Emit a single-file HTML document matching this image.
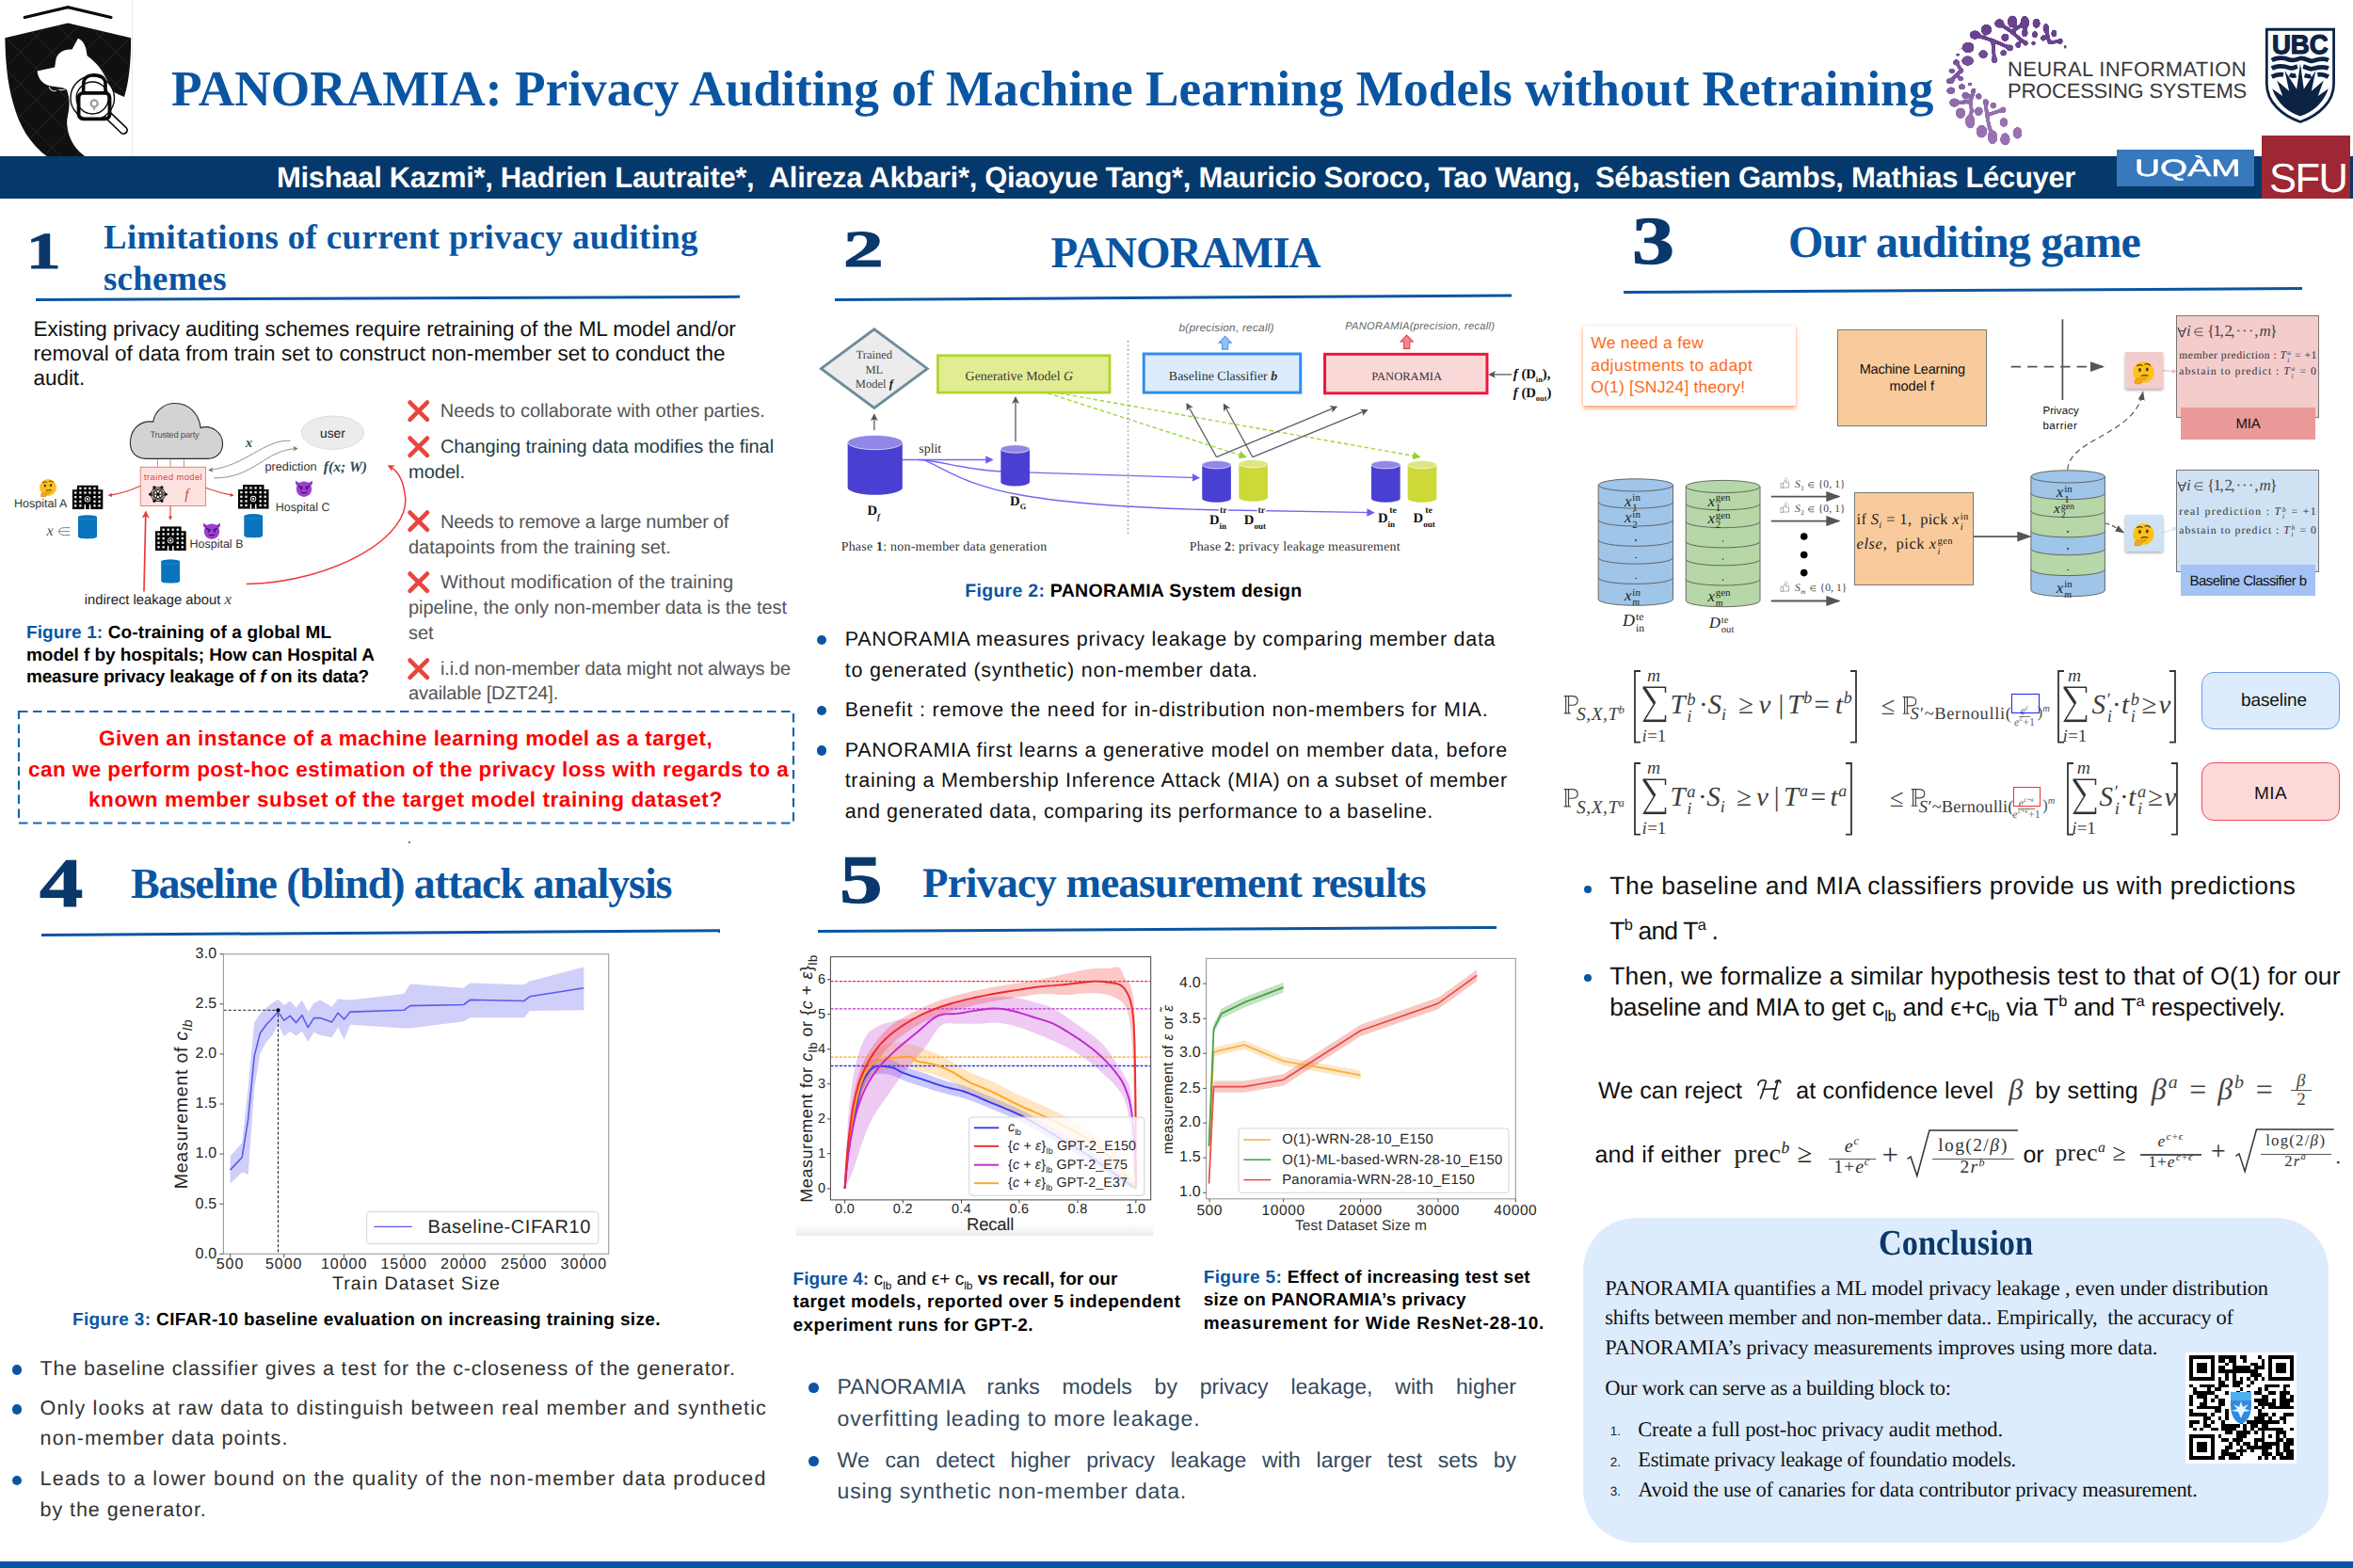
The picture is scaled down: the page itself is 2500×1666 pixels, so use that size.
<!DOCTYPE html>
<html lang="en"><head><meta charset="utf-8"><title>PANORAMIA poster</title>
<style>
html,body{margin:0;padding:0;background:#fff;}
body{width:2500px;height:1666px;position:relative;overflow:hidden;text-rendering:geometricPrecision;font-family:"Liberation Sans",sans-serif;color:#111;}
.a{position:absolute;white-space:nowrap;}
.w{position:absolute;}
.ser{font-family:"Liberation Serif",serif;}
.mono{font-family:"Liberation Mono",monospace;}
.h{font-family:"Liberation Serif",serif;font-weight:bold;color:#0a55a2;}
.num{font-family:"Liberation Serif",serif;font-weight:bold;color:#0a386b;-webkit-text-stroke:1.1px #0a386b;}
.rule{position:absolute;height:3px;background:#0a55a2;transform-origin:0 50%;}
.cap{font-weight:bold;color:#000;}
.cap b{color:#0a55a2;}
.dot{position:absolute;width:11px;height:11px;border-radius:50%;background:#0a55a2;}
svg{position:absolute;overflow:visible;}
sub,sup{font-size:62%;line-height:0;}
.ss{display:inline-block;vertical-align:-0.5em;font-size:64%;line-height:0.98;text-align:left;margin-left:0.04em;}
.ss>*{display:block;}
.m{font-family:'Liberation Serif',serif;}
.m i{padding-right:0.03em;}
.fr{display:inline-block;vertical-align:middle;text-align:center;line-height:1.05;}
.fr>span{display:block;padding:0 2px;}
.fr>span:first-child{border-bottom:1px solid currentColor;}
</style></head>
<body>

<!-- ===== HEADER ===== -->
<div class="w" style="left:140px;top:0;width:1px;height:167px;background:#e6ecef"></div>
<svg width="142" height="167" style="left:0;top:0" viewBox="0 0 1113 1309">
 <defs><clipPath id="shc"><rect x="0" y="0" width="1113" height="1306"/></clipPath>
 <pattern id="wm" width="264" height="264" patternUnits="userSpaceOnUse" patternTransform="translate(40,40)"><path d="M0 0L264 264M264 0L0 264" stroke="#55524f" stroke-width="3.5" fill="none"/></pattern></defs>
 <g clip-path="url(#shc)">
 <path d="M205 145L565 60L925 145" fill="none" stroke="#0b0a09" stroke-width="25" stroke-linecap="round" stroke-linejoin="miter"/>
 <path id="shp" d="M42 315L565 192L1090 315C1092 500 1075 680 1035 808C1000 790 960 775 945 760C900 690 860 590 800 530C770 495 740 475 725 462C720 400 700 340 650 320L600 412C540 408 490 430 470 480C460 510 462 540 455 560L310 592C315 640 340 690 400 712C450 725 510 722 555 745C575 800 580 850 575 890C572 950 550 1000 560 1050C565 1110 590 1180 640 1240C670 1275 700 1295 720 1310L400 1310C250 1200 160 1050 110 860C60 690 45 500 42 315Z" fill="#11100f"/>
 <path d="M42 315L565 192L1090 315C1092 500 1075 680 1035 808C1000 790 960 775 945 760C900 690 860 590 800 530C770 495 740 475 725 462C720 400 700 340 650 320L600 412C540 408 490 430 470 480C460 510 462 540 455 560L310 592C315 640 340 690 400 712C450 725 510 722 555 745C575 800 580 850 575 890C572 950 550 1000 560 1050C565 1110 590 1180 640 1240C670 1275 700 1295 720 1310L400 1310C250 1200 160 1050 110 860C60 690 45 500 42 315Z" fill="url(#wm)" opacity="0.8"/>
 <!-- magnifier -->
 <path d="M905 965L1030 1085" stroke="#0b0a09" stroke-width="72" stroke-linecap="round"/>
 <path d="M905 965L1028 1083" stroke="#fff" stroke-width="48" stroke-linecap="round"/>
 <circle cx="770" cy="815" r="158" fill="none" stroke="#0b0a09" stroke-width="60"/>
 <circle cx="770" cy="815" r="158" fill="none" stroke="#fff" stroke-width="38"/>
 <!-- padlock -->
 <path d="M695 775V700C695 650 730 625 785 625C840 625 878 650 878 700V775" fill="none" stroke="#0b0a09" stroke-width="28"/>
 <rect x="655" y="775" width="258" height="215" rx="38" fill="none" stroke="#0b0a09" stroke-width="30"/>
 <circle cx="785" cy="862" r="28" fill="none" stroke="#9a9a9a" stroke-width="17"/>
 <path d="M785 885V915" stroke="#9a9a9a" stroke-width="16"/>
 <path d="M410 722C415 750 440 765 470 755M490 745C500 752 520 750 545 745" fill="none" stroke="#d8d8d8" stroke-width="9"/>
 </g>
</svg>
<div class="a h" id="title" style="left:182px;top:60px;font-size:53.3px;line-height:70px;letter-spacing:0.03px;">PANORAMIA: Privacy Auditing of Machine Learning Models without Retraining</div>
<div class="w" style="left:0;top:166px;width:2500px;height:45px;background:#05386b"></div>
<div class="a" id="authors" style="left:294px;top:166px;height:45px;line-height:45px;font-size:31px;font-weight:bold;color:#fff;letter-spacing:-0.32px;white-space:pre;">Mishaal Kazmi*, Hadrien Lautraite*,  Alireza Akbari*, Qiaoyue Tang*, Mauricio Soroco, Tao Wang,  Sébastien Gambs, Mathias Lécuyer</div>
<svg width="2500" height="220" style="left:0;top:0" viewBox="0 0 2500 220"><defs><filter id="goo" x="2050" y="0" width="170" height="170" filterUnits="userSpaceOnUse"><feGaussianBlur in="SourceGraphic" stdDeviation="1.15" result="b"/><feColorMatrix in="b" mode="matrix" values="1 0 0 0 0  0 1 0 0 0  0 0 1 0 0  0 0 0 9 -3.4"/></filter></defs><g filter="url(#goo)">
<path d="M2124.3 24.9 L2137.6 34.1 L2151.3 23.9" fill="none" stroke="#68428f" stroke-width="3.6" stroke-linecap="round" stroke-linejoin="round"/>
<path d="M2137.6 34.1 L2147.8 42.8 L2152.3 45.8" fill="none" stroke="#68428f" stroke-width="3.6" stroke-linecap="round" stroke-linejoin="round"/>
<path d="M2098.3 37.1 L2117.1 43.0 L2135.5 50.9" fill="none" stroke="#694390" stroke-width="3.6" stroke-linecap="round" stroke-linejoin="round"/>
<path d="M2117.1 43.0 L2119.0 63.7" fill="none" stroke="#6f4994" stroke-width="3.6" stroke-linecap="round" stroke-linejoin="round"/>
<path d="M2173.8 30.0 L2177.3 45.3 L2189.1 43.8" fill="none" stroke="#68428f" stroke-width="3.6" stroke-linecap="round" stroke-linejoin="round"/>
<path d="M2078.4 66.2 L2084.0 74.9 L2072.2 86.1" fill="none" stroke="#7c569d" stroke-width="3.6" stroke-linecap="round" stroke-linejoin="round"/>
<path d="M2076.3 109.1 L2093.7 108.1 L2096.9 96.1" fill="none" stroke="#8d67a8" stroke-width="3.6" stroke-linecap="round" stroke-linejoin="round"/>
<path d="M2093.7 108.1 L2094.7 117.2 L2093.2 129.0" fill="none" stroke="#956fae" stroke-width="3.6" stroke-linecap="round" stroke-linejoin="round"/>
<path d="M2109.8 108.6 L2111.0 122.3 L2128.2 116.7" fill="none" stroke="#946ead" stroke-width="3.6" stroke-linecap="round" stroke-linejoin="round"/>
<path d="M2111.0 122.3 L2113.1 132.6 L2117.1 145.8" fill="none" stroke="#9872b0" stroke-width="3.6" stroke-linecap="round" stroke-linejoin="round"/>
<ellipse cx="2138.1" cy="22.9" rx="5.1" ry="6.3" fill="#68428f"/>
<ellipse cx="2151.3" cy="23.9" rx="4.6" ry="7.1" fill="#68428f"/>
<ellipse cx="2163.6" cy="24.9" rx="4.0" ry="5.1" fill="#68428f"/>
<ellipse cx="2173.8" cy="30.0" rx="3.2" ry="5.1" fill="#68428f"/>
<ellipse cx="2182.4" cy="35.6" rx="2.9" ry="4.0" fill="#68428f"/>
<ellipse cx="2189.1" cy="43.8" rx="2.5" ry="3.2" fill="#694390"/>
<ellipse cx="2194.2" cy="49.9" rx="1.4" ry="2.3" fill="#6d4792"/>
<ellipse cx="2197.8" cy="55.0" rx="1.1" ry="1.4" fill="#704a94"/>
<ellipse cx="2124.3" cy="24.9" rx="5.1" ry="4.6" fill="#68428f"/>
<ellipse cx="2110.5" cy="31.5" rx="5.7" ry="5.7" fill="#68428f"/>
<ellipse cx="2098.3" cy="37.1" rx="5.7" ry="4.6" fill="#68428f"/>
<ellipse cx="2091.1" cy="50.4" rx="6.3" ry="5.7" fill="#6d4792"/>
<ellipse cx="2090.6" cy="64.7" rx="6.3" ry="5.1" fill="#765098"/>
<ellipse cx="2082.4" cy="52.1" rx="1.6" ry="1.1" fill="#6e4893"/>
<ellipse cx="2080.2" cy="58.1" rx="2.5" ry="1.6" fill="#724c96"/>
<ellipse cx="2130.4" cy="39.7" rx="4.0" ry="4.0" fill="#68428f"/>
<ellipse cx="2151.3" cy="35.1" rx="3.2" ry="4.3" fill="#68428f"/>
<ellipse cx="2162.0" cy="36.6" rx="2.9" ry="3.7" fill="#68428f"/>
<ellipse cx="2170.7" cy="40.5" rx="2.5" ry="3.2" fill="#68428f"/>
<ellipse cx="2160.5" cy="45.8" rx="2.3" ry="2.5" fill="#6b4591"/>
<ellipse cx="2152.3" cy="45.8" rx="2.5" ry="2.9" fill="#6b4591"/>
<ellipse cx="2144.2" cy="47.7" rx="2.9" ry="3.2" fill="#6c4691"/>
<ellipse cx="2135.5" cy="50.9" rx="3.4" ry="3.4" fill="#6e4893"/>
<ellipse cx="2128.6" cy="56.3" rx="3.2" ry="3.2" fill="#714b95"/>
<ellipse cx="2107.1" cy="57.6" rx="4.8" ry="4.3" fill="#714b95"/>
<ellipse cx="2119.0" cy="63.7" rx="3.4" ry="3.4" fill="#754f98"/>
<ellipse cx="2078.4" cy="66.2" rx="3.4" ry="2.9" fill="#775199"/>
<ellipse cx="2073.8" cy="75.2" rx="3.4" ry="2.5" fill="#7c569c"/>
<ellipse cx="2084.0" cy="74.9" rx="2.5" ry="2.5" fill="#7c569c"/>
<ellipse cx="2072.2" cy="86.1" rx="4.3" ry="3.2" fill="#825ca1"/>
<ellipse cx="2083.3" cy="83.6" rx="3.2" ry="2.5" fill="#815ba0"/>
<ellipse cx="2092.9" cy="89.5" rx="2.5" ry="2.1" fill="#845ea2"/>
<ellipse cx="2084.5" cy="92.2" rx="3.7" ry="2.9" fill="#8660a3"/>
<ellipse cx="2072.8" cy="96.3" rx="4.6" ry="3.7" fill="#8862a5"/>
<ellipse cx="2096.9" cy="96.1" rx="2.5" ry="2.5" fill="#8862a5"/>
<ellipse cx="2088.4" cy="101.4" rx="4.0" ry="3.4" fill="#8b65a7"/>
<ellipse cx="2102.3" cy="102.4" rx="3.2" ry="3.2" fill="#8c66a7"/>
<ellipse cx="2076.3" cy="109.1" rx="5.1" ry="4.6" fill="#906aaa"/>
<ellipse cx="2109.8" cy="108.6" rx="3.2" ry="3.4" fill="#8f69aa"/>
<ellipse cx="2117.7" cy="112.1" rx="3.2" ry="3.4" fill="#926cab"/>
<ellipse cx="2128.2" cy="116.7" rx="3.2" ry="3.2" fill="#946ead"/>
<ellipse cx="2083.0" cy="120.3" rx="5.1" ry="5.7" fill="#9670af"/>
<ellipse cx="2102.3" cy="118.3" rx="4.3" ry="4.8" fill="#956fae"/>
<ellipse cx="2093.2" cy="129.0" rx="5.1" ry="7.4" fill="#9872b0"/>
<ellipse cx="2128.9" cy="130.0" rx="4.3" ry="4.8" fill="#9872b0"/>
<ellipse cx="2105.4" cy="139.7" rx="5.7" ry="6.9" fill="#9872b0"/>
<ellipse cx="2117.1" cy="145.8" rx="5.1" ry="7.4" fill="#9872b0"/>
<ellipse cx="2130.4" cy="147.9" rx="5.1" ry="6.6" fill="#9872b0"/>
<ellipse cx="2143.5" cy="141.2" rx="4.8" ry="6.3" fill="#9872b0"/>
</g></svg>
<div class="a" style="left:2133px;top:62px;font-size:22px;line-height:24px;color:#38383b;letter-spacing:0.39px;">NEURAL INFORMATION</div>
<div class="a" style="left:2133px;top:85px;font-size:22px;line-height:24px;color:#38383b;letter-spacing:-0.22px;">PROCESSING SYSTEMS</div>
<!-- UBC -->
<svg width="105" height="120" style="left:2395px;top:20px" viewBox="0 0 1372 1568">
 <path d="M174 147H1105V900C1105 1150 900 1340 640 1430C380 1340 174 1150 174 900Z" fill="#fff" stroke="#0c2344" stroke-width="36"/>
 <text x="637" y="482" text-anchor="middle" style="font-family:'Liberation Sans',sans-serif;font-weight:700;font-size:372px" fill="#0c2344" stroke="#0c2344" stroke-width="16" stroke-linejoin="round" textLength="780" lengthAdjust="spacingAndGlyphs">UBC</text>
 <g fill="none" stroke="#0c2344" stroke-width="62">
  <path d="M245 575C300 545 400 530 470 562S580 562 640 548S760 592 800 586S950 530 1030 576"/>
  <path d="M245 688C300 655 400 645 470 675S560 672 600 660"/>
  <path d="M680 660C720 672 770 700 800 696S950 645 1030 688"/>
  <path d="M245 805C300 775 350 765 405 775"/>
  <path d="M495 775C525 795 550 795 580 785"/>
  <path d="M700 785C730 795 760 805 790 795"/>
  <path d="M880 775C930 765 980 775 1030 805"/>
 </g>
 <path d="M250 970L395 1072L315 855L485 1002L425 720L590 978L640 620L690 978L855 720L795 1002L965 855L885 1072L1030 970C960 1180 800 1300 640 1352C480 1300 320 1180 250 970Z" fill="#0c2344"/>
</svg>
<!-- UQAM / SFU -->
<div class="w" style="left:2249px;top:159px;width:146px;height:39px;background:#3878bd"></div>
<div class="a" style="left:2268px;top:166px;width:76px;font-size:25px;line-height:26px;color:#fff;-webkit-text-stroke:0.5px #fff;transform:scaleX(1.5);transform-origin:0 0;">UQÀM</div>
<div class="w" style="left:2403px;top:144px;width:94px;height:67px;background:#9d2733"></div>
<div class="a" style="left:2411px;top:166px;font-size:43.5px;line-height:48px;color:#fff;letter-spacing:-1.6px;">SFU</div>

<!-- ===== SECTION 1 ===== -->
<div class="a num" style="left:28px;top:237px;font-size:55px;line-height:60px;transform:scaleX(1.33);transform-origin:0 0;">1</div>
<div class="a" style="left:110.0px;top:227.6px;font-size:36.8px;line-height:47.8px;color:#0a55a2;font-family:'Liberation Serif',serif;font-weight:bold;letter-spacing:0.39px;">Limitations of current privacy auditing</div>
<div class="a" style="left:110.0px;top:271.8px;font-size:36.8px;line-height:47.8px;color:#0a55a2;font-family:'Liberation Serif',serif;font-weight:bold;letter-spacing:0.30px;">schemes</div>
<div class="rule" style="left:38.0px;top:316.5px;width:748.0px;height:3px;background:#0a55a2;transform:rotate(-0.245deg);"></div>
<div class="a" style="left:35.5px;top:334.5px;font-size:22.5px;line-height:29.2px;color:#111;letter-spacing:-0.06px;">Existing privacy auditing schemes require retraining of the ML model and/or</div>
<div class="a" style="left:35.5px;top:360.8px;font-size:22.5px;line-height:29.2px;color:#111;letter-spacing:0.03px;">removal of data from train set to construct non-member set to conduct the</div>
<div class="a" style="left:35.5px;top:387.4px;font-size:22.5px;line-height:29.2px;color:#111;letter-spacing:-0.05px;">audit.</div>
<svg width="440" height="240" style="left:0;top:420px" viewBox="0 0 2353 1283"><defs><symbol id="bld" viewBox="0 0 176 138"><path d="M28 0H148V26H176V138H0V26H28Z" fill="#050505"/><g fill="#fff"><rect x="40.5" y="12.2" width="12" height="12"/><rect x="67.6" y="12.2" width="12" height="12"/><rect x="94.3" y="12.2" width="12" height="12"/><rect x="121.4" y="12.2" width="12" height="12"/><rect x="13.0" y="37.3" width="12" height="12"/><rect x="40.5" y="37.3" width="12" height="12"/><rect x="67.6" y="37.3" width="12" height="12"/><rect x="94.3" y="37.3" width="12" height="12"/><rect x="121.4" y="37.3" width="12" height="12"/><rect x="148.5" y="37.3" width="12" height="12"/><rect x="13.0" y="62.0" width="12" height="12"/><rect x="40.5" y="62.0" width="12" height="12"/><rect x="121.4" y="62.0" width="12" height="12"/><rect x="148.5" y="62.0" width="12" height="12"/><rect x="13.0" y="87.0" width="12" height="12"/><rect x="40.5" y="87.0" width="12" height="12"/><rect x="121.4" y="87.0" width="12" height="12"/><rect x="148.5" y="87.0" width="12" height="12"/><rect x="13.0" y="111.3" width="12" height="12"/><rect x="40.5" y="111.3" width="12" height="12"/><rect x="121.4" y="111.3" width="12" height="12"/><rect x="148.5" y="111.3" width="12" height="12"/><rect x="69" y="110" width="8" height="28"/><rect x="97" y="110" width="8" height="28"/><circle cx="87" cy="80" r="17"/></g><circle cx="87" cy="80" r="12.5" fill="#050505"/><path d="M87 72L95 80L87 88L79 80Z" fill="#fff"/></symbol><symbol id="cyl" viewBox="0 0 108 136"><path d="M0 14C0 -4 108 -4 108 14V122C108 140 0 140 0 122Z" fill="#0a73bd"/><ellipse cx="54" cy="14" rx="54" ry="13" fill="#0a73bd"/><path d="M1 16C4 30 104 30 107 16" fill="none" stroke="#4aa0dc" stroke-width="2.5"/></symbol><marker id="ar" viewBox="0 0 10 10" refX="8" refY="5" markerWidth="3.8" markerHeight="3.8" orient="auto-start-reverse"><path d="M0 0L10 5L0 10Z" fill="#d9463c"/></marker><marker id="aR" viewBox="0 0 10 10" refX="7" refY="5" markerWidth="5" markerHeight="5" orient="auto-start-reverse"><path d="M0 0L10 5L0 10L3 5Z" fill="#f0373a"/></marker><marker id="ag" viewBox="0 0 10 10" refX="8" refY="5" markerWidth="6" markerHeight="6" orient="auto-start-reverse"><path d="M0 0L10 5L0 10L3 5Z" fill="#777"/></marker></defs><path d="M830 360C770 360 740 320 740 270C740 200 790 140 870 150C880 90 930 45 995 45C1070 45 1130 100 1140 185C1200 165 1265 210 1265 275C1265 325 1230 360 1180 360Z" fill="#d3d3d3" stroke="#2b2b2b" stroke-width="6"/><text x="992" y="243" text-anchor="middle" font-family="Liberation Sans,sans-serif" font-size="51" fill="#555" letter-spacing="-1.5">Trusted party</text><ellipse cx="1890" cy="212" rx="177" ry="95" fill="#ececec" stroke="#c9c9c9" stroke-width="3"/><text x="1890" y="240" text-anchor="middle" font-family="Liberation Sans,sans-serif" font-size="74" fill="#222">user</text><text x="1395" y="292" font-family="Liberation Serif,serif" font-style="italic" font-weight="bold" font-size="80" fill="#2a4a55">x</text><path d="M1650 258C1500 250 1400 400 1188 425" fill="none" stroke="#888" stroke-width="5" marker-end="url(#ag)"/><path d="M1215 470C1450 470 1500 310 1688 302" fill="none" stroke="#888" stroke-width="5" marker-end="url(#ag)"/><text x="1505" y="425" font-family="Liberation Sans,sans-serif" font-size="68" fill="#333">prediction</text><text x="1838" y="432" font-family="Liberation Serif,serif" font-style="italic" font-weight="bold" font-size="84" fill="#2a4a55">f(x; W)</text><path d="M895 362V410M968 362V410M1045 362V410" stroke="#d9534f" stroke-width="4"/><rect x="798" y="408" width="370" height="220" fill="#fde3e0" stroke="#e27b72" stroke-width="5"/><text x="818" y="482" font-family="Liberation Sans,sans-serif" font-size="50" fill="#d9463c" textLength="330">trained model</text><path d="M943 562L920 601M943 562L876 601M943 562L853 562M943 562L876 523M943 562L920 523M920 601L876 601M920 601L853 562M920 601L876 523M920 601L920 523M876 601L853 562M876 601L876 523M876 601L920 523M853 562L876 523M853 562L920 523M876 523L920 523" stroke="#111" stroke-width="5"/><circle cx="943" cy="562" r="8" fill="#111"/><circle cx="920" cy="601" r="8" fill="#111"/><circle cx="876" cy="601" r="8" fill="#111"/><circle cx="853" cy="562" r="8" fill="#111"/><circle cx="876" cy="523" r="8" fill="#111"/><circle cx="920" cy="523" r="8" fill="#111"/><circle cx="898" cy="562" r="10" fill="#111"/><text x="1050" y="590" font-family="Liberation Serif,serif" font-style="italic" font-size="84" fill="#d9463c">f</text><use href="#bld" x="410" y="510" width="176" height="138"/><use href="#bld" x="1352" y="508" width="176" height="138"/><use href="#bld" x="882" y="745" width="176" height="138"/><g font-family="Liberation Sans,sans-serif" font-size="67" fill="#333"><text x="80" y="638">Hospital A</text><text x="1565" y="660">Hospital C</text><text x="1077" y="868">Hospital B</text></g><text x="265" y="795" font-family="Liberation Serif,serif" font-style="italic" font-size="88" fill="#4a5560">x</text><path d="M398 752H365C345 752 335 762 335 773C335 784 345 794 365 794H398M335 773H395" fill="none" stroke="#777" stroke-width="5"/><use href="#cyl" x="443" y="680" width="108" height="136"/><use href="#cyl" x="1386" y="674" width="108" height="136"/><use href="#cyl" x="915" y="932" width="108" height="136"/><g fill="none" stroke="#d9463c" stroke-width="6"><path d="M798 515Q700 560 618 568" marker-end="url(#ar)"/><path d="M1168 525Q1250 555 1325 568" marker-end="url(#ar)"/><path d="M968 628V705" marker-end="url(#ar)"/></g><path d="M818 1115L828 668" fill="none" stroke="#f0373a" stroke-width="9" marker-end="url(#aR)"/><path d="M1400 1072C1900 1060 2350 800 2300 560C2290 480 2255 425 2212 402" fill="none" stroke="#f0373a" stroke-width="8" marker-end="url(#aR)"/><text x="480" y="1185" font-family="Liberation Sans,sans-serif" font-size="79" fill="#222">indirect leakage about <tspan font-family="Liberation Serif,serif" font-style="italic" fill="#2a4a55" font-size="90">x</tspan></text></svg>
<svg width="20" height="20" style="left:40.9px;top:508.2px" viewBox="-10 -10 20 20"><circle r="9" fill="#fcc21b"/><ellipse cx="-3.2" cy="-2" rx="1.2" ry="1.6" fill="#5a3a12"/><ellipse cx="3" cy="-2.4" rx="1.2" ry="1.6" fill="#5a3a12"/><path d="M-5.5 -5.5Q-3.5 -7 -1.2 -5.6M1.2 -6.8Q3.5 -7.6 5.4 -6" stroke="#5a3a12" stroke-width="1" fill="none" stroke-linecap="round"/><path d="M-2 3.2Q1 2 3.6 3" stroke="#5a3a12" stroke-width="1" fill="none" stroke-linecap="round"/><path d="M-7.5 9.5C-8 6 -6 4.5 -3.5 5.5L1.5 4.2C2.6 4 2.8 5.4 1.8 5.8L-1.6 7C-1 8.6 -2 9.8 -4 10Z" fill="#f5a51b" stroke="#d68a10" stroke-width="0.5"/></svg>
<svg width="20" height="20" style="left:312.6px;top:509.1px" viewBox="-10 -10 20 20"><path d="M-8.8 -8.5Q-9.5 -3 -6 -3L-3.5 -6Q-7 -6 -8.8 -8.5ZM8.8 -8.5Q9.5 -3 6 -3L3.5 -6Q7 -6 8.8 -8.5Z" fill="#8a2fb8"/><circle cy="0.8" r="8.2" fill="#9b3fd0"/><path d="M-5.6 -2.6L-1.6 -0.8M5.6 -2.6L1.6 -0.8" stroke="#3a1060" stroke-width="1.2" stroke-linecap="round"/><circle cx="-3.2" cy="0.3" r="1.1" fill="#3a1060"/><circle cx="3.2" cy="0.3" r="1.1" fill="#3a1060"/><path d="M-4.4 3.2Q0 8 4.4 3.2Q0 5 -4.4 3.2Z" fill="#3a1060"/></svg>
<svg width="20" height="20" style="left:214.9px;top:554.0px" viewBox="-10 -10 20 20"><path d="M-8.8 -8.5Q-9.5 -3 -6 -3L-3.5 -6Q-7 -6 -8.8 -8.5ZM8.8 -8.5Q9.5 -3 6 -3L3.5 -6Q7 -6 8.8 -8.5Z" fill="#8a2fb8"/><circle cy="0.8" r="8.2" fill="#9b3fd0"/><path d="M-5.6 -2.6L-1.6 -0.8M5.6 -2.6L1.6 -0.8" stroke="#3a1060" stroke-width="1.2" stroke-linecap="round"/><circle cx="-3.2" cy="0.3" r="1.1" fill="#3a1060"/><circle cx="3.2" cy="0.3" r="1.1" fill="#3a1060"/><path d="M-4.4 3.2Q0 8 4.4 3.2Q0 5 -4.4 3.2Z" fill="#3a1060"/></svg>
<div class="a cap" style="left:28.0px;top:661.3px;font-size:19px;line-height:24.7px;color:#000;font-weight:bold;letter-spacing:0.12px;"><b>Figure 1:</b> Co-training of a global ML</div>
<div class="a" style="left:28.0px;top:685.1px;font-size:19px;line-height:24.7px;color:#000;font-weight:bold;letter-spacing:-0.05px;">model f by hospitals; How can Hospital A</div>
<div class="a" style="left:28.0px;top:708.1px;font-size:19px;line-height:24.7px;color:#000;font-weight:bold;letter-spacing:-0.19px;">measure privacy leakage of <i>f</i> on its data?</div>
<svg width="21.5" height="21.5" style="left:434.2px;top:425.8px" viewBox="-10.75 -10.75 21.5 21.5"><path d="M-9.2 -9.2L9.2 9.2M9.2 -9.2L-9.2 9.2" stroke="#e8453c" stroke-width="4.6" stroke-linecap="round"/></svg>
<div class="a" style="left:467.8px;top:423.7px;font-size:20px;line-height:26.0px;color:#555;letter-spacing:-0.05px;">Needs to collaborate with other parties.</div>
<svg width="21.5" height="21.5" style="left:434.2px;top:463.8px" viewBox="-10.75 -10.75 21.5 21.5"><path d="M-9.2 -9.2L9.2 9.2M9.2 -9.2L-9.2 9.2" stroke="#e8453c" stroke-width="4.6" stroke-linecap="round"/></svg>
<div class="a" style="left:468.0px;top:461.7px;font-size:20px;line-height:26.0px;color:#263c47;letter-spacing:-0.07px;">Changing training data modifies the final</div>
<div class="a" style="left:434.0px;top:488.7px;font-size:20px;line-height:26.0px;color:#263c47;">model.</div>
<svg width="21.5" height="21.5" style="left:434.2px;top:543.2px" viewBox="-10.75 -10.75 21.5 21.5"><path d="M-9.2 -9.2L9.2 9.2M9.2 -9.2L-9.2 9.2" stroke="#e8453c" stroke-width="4.6" stroke-linecap="round"/></svg>
<div class="a" style="left:468.0px;top:541.7px;font-size:20px;line-height:26.0px;color:#555;letter-spacing:-0.26px;">Needs to remove a large number of</div>
<div class="a" style="left:434.0px;top:568.7px;font-size:20px;line-height:26.0px;color:#555;letter-spacing:-0.04px;">datapoints from the training set.</div>
<svg width="21.5" height="21.5" style="left:434.2px;top:608.2px" viewBox="-10.75 -10.75 21.5 21.5"><path d="M-9.2 -9.2L9.2 9.2M9.2 -9.2L-9.2 9.2" stroke="#e8453c" stroke-width="4.6" stroke-linecap="round"/></svg>
<div class="a" style="left:468.0px;top:606.2px;font-size:20px;line-height:26.0px;color:#555;letter-spacing:0.12px;">Without modification of the training</div>
<div class="a" style="left:434.0px;top:632.7px;font-size:20px;line-height:26.0px;color:#555;letter-spacing:-0.06px;">pipeline, the only non-member data is the test</div>
<div class="a" style="left:434.0px;top:659.7px;font-size:20px;line-height:26.0px;color:#555;">set</div>
<svg width="21.5" height="21.5" style="left:434.2px;top:699.8px" viewBox="-10.75 -10.75 21.5 21.5"><path d="M-9.2 -9.2L9.2 9.2M9.2 -9.2L-9.2 9.2" stroke="#e8453c" stroke-width="4.6" stroke-linecap="round"/></svg>
<div class="a" style="left:468.0px;top:697.7px;font-size:20px;line-height:26.0px;color:#555;letter-spacing:-0.12px;">i.i.d non-member data might not always be</div>
<div class="a" style="left:434.0px;top:724.3px;font-size:20px;line-height:26.0px;color:#555;letter-spacing:-0.18px;">available [DZT24].</div>
<svg width="830" height="124" style="left:18px;top:754px" viewBox="0 0 830 124"><rect x="2" y="2" width="823" height="118.5" fill="none" stroke="#1a64b0" stroke-width="2.2" stroke-dasharray="9.5 5.5"/></svg>
<div class="a" style="left:105.0px;top:770.2px;font-size:22.5px;line-height:29.2px;color:#ff0000;font-weight:bold;letter-spacing:0.42px;">Given an instance of a machine learning model as a target,</div>
<div class="a" style="left:30.0px;top:802.9px;font-size:22.5px;line-height:29.2px;color:#ff0000;font-weight:bold;letter-spacing:0.44px;">can we perform post-hoc estimation of the privacy loss with regards to a</div>
<div class="a" style="left:94.0px;top:835.2px;font-size:22.5px;line-height:29.2px;color:#ff0000;font-weight:bold;letter-spacing:0.59px;">known member subset of the target model training dataset?</div>
<div class="w" style="left:434px;top:894px;width:2px;height:2px;background:#444;border-radius:1px"></div>

<!-- ===== SECTION 2 ===== -->
<div class="a num" style="left:896px;top:235px;font-size:55px;line-height:60px;transform:scaleX(1.55);transform-origin:0 0;">2</div>
<div class="a" style="left:1116.6px;top:238.9px;font-size:47px;line-height:61.1px;color:#0a55a2;font-family:'Liberation Serif',serif;font-weight:bold;letter-spacing:-0.90px;">PANORAMIA</div>
<div class="rule" style="left:886.6px;top:317.0px;width:719.4px;height:3px;background:#0a55a2;transform:rotate(-0.358deg);"></div>
<svg width="820" height="270" style="left:850px;top:330px" viewBox="0 0 2353 775"><defs><marker id="g2" viewBox="0 0 10 10" refX="8" refY="5" markerWidth="6" markerHeight="6" orient="auto"><path d="M0 0L10 5L0 10L2.5 5Z" fill="#555"/></marker><marker id="p2" viewBox="0 0 10 10" refX="8" refY="5" markerWidth="6" markerHeight="6" orient="auto"><path d="M0 0L10 5L0 10Z" fill="#6a5cf0"/></marker><marker id="v2" viewBox="0 0 10 10" refX="8" refY="5" markerWidth="6" markerHeight="6" orient="auto"><path d="M0 0L10 5L0 10Z" fill="#8fd42e"/></marker></defs><g fill="none" stroke="#7466f2" stroke-width="4"><path d="M312 455H585" marker-end="url(#p2)"/><path d="M360 455C450 460 500 488 640 492L1215 510" marker-end="url(#p2)"/><path d="M380 457C520 520 560 590 1260 608L1748 616" marker-end="url(#p2)"/></g><g fill="none" stroke="#9bd83f" stroke-width="4" stroke-dasharray="13 8"><path d="M755 252L1358 446" marker-end="url(#v2)"/><path d="M790 252L1888 446" marker-end="url(#v2)"/></g><g fill="none" stroke="#5f5f5f" stroke-width="3.8"><path d="M226 365V318" marker-end="url(#g2)"/><path d="M657 400V266" marker-end="url(#g2)"/><path d="M1270 447L1180 285" marker-end="url(#g2)"/><path d="M1380 447L1293 287" marker-end="url(#g2)"/><path d="M1270 447L1635 294" marker-end="url(#g2)"/><path d="M1380 447L1728 304" marker-end="url(#g2)"/><path d="M2170 195H2103" marker-end="url(#g2)"/></g><path d="M64 177L226 57L388 177L226 297Z" fill="#ececec" stroke="#6d8c9b" stroke-width="8"/><g font-family='Liberation Serif,serif' font-size="36" fill="#444" text-anchor="middle"><text x="226" y="147">Trained</text><text x="226" y="191">ML</text><text x="226" y="235">Model <tspan font-style="italic" font-weight="bold" fill="#111">f</tspan></text></g><rect x="420" y="137" width="524" height="113" fill="#e2ec92" stroke="#b2d430" stroke-width="8"/><text x="668" y="213" font-family='Liberation Serif,serif' font-size="40" fill="#3a3a3a" text-anchor="middle">Generative Model <tspan font-style="italic">G</tspan></text><path d="M1000 92V680" stroke="#888" stroke-width="4" stroke-dasharray="4 9"/><rect x="1048" y="132" width="478" height="118" fill="#dcecfd" stroke="#2f8cf0" stroke-width="8.5"/><text x="1290" y="212" font-family='Liberation Serif,serif' font-size="40" fill="#333" text-anchor="middle">Baseline Classifier <tspan font-style="italic" font-weight="bold">b</tspan></text><rect x="1600" y="133" width="495" height="119" fill="#fbd8d8" stroke="#f0143c" stroke-width="8.5"/><text x="1850" y="212" font-family='Liberation Serif,serif' font-size="36" fill="#333" text-anchor="middle">PANORAMIA</text><text x="1155" y="62" font-family='Liberation Sans,sans-serif' font-style="italic" font-size="34" fill="#666" textLength="290">b(precision, recall)</text><text x="1662" y="57" font-family='Liberation Sans,sans-serif' font-style="italic" font-size="32" fill="#666" textLength="456">PANORAMIA(precision, recall)</text><path d="M1296 78L1315 98H1305V118H1287V98H1277Z" fill="#90c2f6" stroke="#4a98e8" stroke-width="3"/><path d="M1850 75L1869 95H1859V116H1841V95H1831Z" fill="#f6868b" stroke="#ee3b4b" stroke-width="3"/><g font-family='Liberation Serif,serif' font-weight="bold" font-size="42" fill="#111"><text x="2175" y="207"><tspan font-style="italic">f</tspan> (D<tspan font-size="24" dy="12">in</tspan><tspan dy="-12">),</tspan></text><text x="2175" y="263"><tspan font-style="italic">f</tspan> (D<tspan font-size="24" dy="12">out</tspan><tspan dy="-12">)</tspan></text></g><path d="M145 402V540A83.5 22 0 0 0 312 540V402Z" fill="#4a3fd3"/><ellipse cx="228.5" cy="402" rx="83.5" ry="22" fill="#9087e8" stroke="#fff" stroke-opacity="0.75" stroke-width="2.5"/><path d="M612 422V523A44.0 12 0 0 0 700 523V422Z" fill="#4a3fd3"/><ellipse cx="656.0" cy="422" rx="44.0" ry="12" fill="#9087e8" stroke="#fff" stroke-opacity="0.75" stroke-width="2.5"/><path d="M1226 470V573A44.0 12 0 0 0 1314 573V470Z" fill="#4a3fd3"/><ellipse cx="1270.0" cy="470" rx="44.0" ry="12" fill="#9087e8" stroke="#fff" stroke-opacity="0.75" stroke-width="2.5"/><path d="M1338 467V570A44.0 12 0 0 0 1426 570V467Z" fill="#ccd936"/><ellipse cx="1382.0" cy="467" rx="44.0" ry="12" fill="#dde680" stroke="#fff" stroke-opacity="0.75" stroke-width="2.5"/><path d="M1742 470V573A44.0 12 0 0 0 1830 573V470Z" fill="#4a3fd3"/><ellipse cx="1786.0" cy="470" rx="44.0" ry="12" fill="#9087e8" stroke="#fff" stroke-opacity="0.75" stroke-width="2.5"/><path d="M1853 470V573A44.0 12 0 0 0 1941 573V470Z" fill="#ccd936"/><ellipse cx="1897.0" cy="470" rx="44.0" ry="12" fill="#dde680" stroke="#fff" stroke-opacity="0.75" stroke-width="2.5"/><text x="362" y="432" font-family='Liberation Serif,serif' font-size="40" fill="#333">split</text><g font-family='Liberation Serif,serif' font-weight="bold" font-size="42" fill="#111" stroke="#fff" stroke-width="9" paint-order="stroke" stroke-linejoin="round"><text x="205" y="622">D<tspan font-size="26" dy="14" font-style="italic">f</tspan></text><text x="640" y="595">D<tspan font-size="24" dy="12">G</tspan></text><text x="1248" y="652">D<tspan font-size="26" dy="14">in</tspan></text><text x="1280" y="618" font-size="28">tr</text><text x="1354" y="652">D<tspan font-size="26" dy="14">out</tspan></text><text x="1396" y="618" font-size="28">tr</text><text x="1762" y="645">D<tspan font-size="26" dy="14">in</tspan></text><text x="1797" y="618" font-size="28">te</text><text x="1870" y="645">D<tspan font-size="26" dy="14">out</tspan></text><text x="1906" y="618" font-size="28">te</text></g><g font-family='Liberation Serif,serif' font-size="40" fill="#333"><text x="125" y="733" textLength="627">Phase <tspan font-weight="bold">1</tspan>: non-member data generation</text><text x="1187" y="733" textLength="643">Phase <tspan font-weight="bold">2</tspan>: privacy leakage measurement</text></g></svg>
<div class="a cap" style="left:1025.3px;top:615.7px;font-size:19.5px;line-height:25.4px;color:#000;font-weight:bold;letter-spacing:0.28px;"><b>Figure 2:</b> PANORAMIA System design</div>
<div class="dot" style="left:867.5px;top:674.8px;width:10.5px;height:10.5px"></div>
<div class="a" style="left:897.7px;top:666.2px;font-size:21.5px;line-height:27.9px;color:#111;letter-spacing:0.71px;">PANORAMIA measures privacy leakage by comparing member data</div>
<div class="a" style="left:897.7px;top:699.2px;font-size:21.5px;line-height:27.9px;color:#111;letter-spacing:0.77px;">to generated (synthetic) non-member data.</div>
<div class="dot" style="left:867.5px;top:749.8px;width:10.5px;height:10.5px"></div>
<div class="a" style="left:897.7px;top:741.2px;font-size:21.5px;line-height:27.9px;color:#111;letter-spacing:0.80px;">Benefit : remove the need for in-distribution non-members for MIA.</div>
<div class="dot" style="left:867.5px;top:792.3px;width:10.5px;height:10.5px"></div>
<div class="a" style="left:897.7px;top:783.7px;font-size:21.5px;line-height:27.9px;color:#111;letter-spacing:0.76px;">PANORAMIA first learns a generative model on member data, before</div>
<div class="a" style="left:897.7px;top:816.2px;font-size:21.5px;line-height:27.9px;color:#111;letter-spacing:0.71px;">training a Membership Inference Attack (MIA) on a subset of member</div>
<div class="a" style="left:897.7px;top:849.2px;font-size:21.5px;line-height:27.9px;color:#111;letter-spacing:0.64px;">and generated data, comparing its performance to a baseline.</div>

<!-- ===== SECTION 3 ===== -->
<div class="a num" style="left:1734px;top:216px;font-size:72px;line-height:80px;transform:scaleX(1.25);transform-origin:0 0;">3</div>
<div class="a" style="left:1900.0px;top:227.2px;font-size:48px;line-height:62.4px;color:#0a55a2;font-family:'Liberation Serif',serif;font-weight:bold;letter-spacing:-0.85px;">Our auditing game</div>
<div class="rule" style="left:1725.0px;top:308.7px;width:721.0px;height:3px;background:#0a55a2;transform:rotate(-0.318deg);"></div>
<div class="w" style="left:1681.7px;top:346px;width:226px;height:85px;background:#fff;box-shadow:0 2.5px 4px rgba(255,110,40,0.55),0 0 3px rgba(255,110,40,0.25);"></div>
<div class="a" style="left:1690.2px;top:353.1px;font-size:17.5px;line-height:22.8px;color:#ff6a1a;letter-spacing:0.28px;">We need a few</div>
<div class="a" style="left:1690.2px;top:376.7px;font-size:17.5px;line-height:22.8px;color:#ff6a1a;letter-spacing:0.48px;">adjustments to adapt</div>
<div class="a" style="left:1690.2px;top:400.3px;font-size:17.5px;line-height:22.8px;color:#ff6a1a;letter-spacing:0.18px;">O(1) [SNJ24] theory!</div>
<div class="w" style="left:1951.6px;top:349.5px;width:159.5px;height:103.5px;background:#f9cb9c;border:1px solid #777;box-sizing:border-box;"></div>
<div class="a" style="left:1975.7px;top:384.0px;font-size:14.5px;line-height:18.9px;color:#111;letter-spacing:-0.20px;">Machine Learning</div>
<div class="a" style="left:2007.5px;top:402.4px;font-size:14.5px;line-height:18.9px;color:#111;letter-spacing:-0.01px;">model f</div>
<svg width="840" height="370" style="left:1660px;top:320px" viewBox="1660 320 840 370"><defs><marker id="k3" viewBox="0 0 14 10" refX="12" refY="5" markerWidth="16" markerHeight="11" markerUnits="userSpaceOnUse" orient="auto"><path d="M0 0L14 5L0 10Z" fill="#555"/></marker><marker id="k3s" viewBox="0 0 14 10" refX="10" refY="5" markerWidth="10" markerHeight="8" markerUnits="userSpaceOnUse" orient="auto"><path d="M0 0L14 5L0 10Z" fill="#555"/></marker></defs><path d="M1698.2 613.8V636.7A39.6 6.6 0 0 0 1777.5 636.7V613.8Z" fill="#9fc5e8" stroke="#5a5a5a" stroke-width="0.9"/><path d="M1698.2 592.5V613.8A39.6 6.6 0 0 0 1777.5 613.8V592.5Z" fill="#9fc5e8" stroke="#5a5a5a" stroke-width="0.9"/><path d="M1698.2 573.7V592.5A39.6 6.6 0 0 0 1777.5 592.5V573.7Z" fill="#9fc5e8" stroke="#5a5a5a" stroke-width="0.9"/><path d="M1698.2 552.4V573.7A39.6 6.6 0 0 0 1777.5 573.7V552.4Z" fill="#9fc5e8" stroke="#5a5a5a" stroke-width="0.9"/><path d="M1698.2 533.5V552.4A39.6 6.6 0 0 0 1777.5 552.4V533.5Z" fill="#9fc5e8" stroke="#5a5a5a" stroke-width="0.9"/><path d="M1698.2 515.4V533.5A39.6 6.6 0 0 0 1777.5 533.5V515.4Z" fill="#9fc5e8" stroke="#5a5a5a" stroke-width="0.9"/><ellipse cx="1737.9" cy="515.4" rx="39.6" ry="6.6" fill="#9fc5e8" stroke="#5a5a5a" stroke-width="0.9"/><path d="M1791.2 615.4V638.1A39.4 6.6 0 0 0 1870.0 638.1V615.4Z" fill="#b6d7a8" stroke="#5a5a5a" stroke-width="0.9"/><path d="M1791.2 594.2V615.4A39.4 6.6 0 0 0 1870.0 615.4V594.2Z" fill="#b6d7a8" stroke="#5a5a5a" stroke-width="0.9"/><path d="M1791.2 575.3V594.2A39.4 6.6 0 0 0 1870.0 594.2V575.3Z" fill="#b6d7a8" stroke="#5a5a5a" stroke-width="0.9"/><path d="M1791.2 554.1V575.3A39.4 6.6 0 0 0 1870.0 575.3V554.1Z" fill="#b6d7a8" stroke="#5a5a5a" stroke-width="0.9"/><path d="M1791.2 535.2V554.1A39.4 6.6 0 0 0 1870.0 554.1V535.2Z" fill="#b6d7a8" stroke="#5a5a5a" stroke-width="0.9"/><path d="M1791.2 517.0V535.2A39.4 6.6 0 0 0 1870.0 535.2V517.0Z" fill="#b6d7a8" stroke="#5a5a5a" stroke-width="0.9"/><ellipse cx="1830.6" cy="517.0" rx="39.4" ry="6.6" fill="#b6d7a8" stroke="#5a5a5a" stroke-width="0.9"/><path d="M2157.9 605.0V627.2A39.2 6.6 0 0 0 2236.4 627.2V605.0Z" fill="#9fc5e8" stroke="#5a5a5a" stroke-width="0.9"/><path d="M2157.9 583.1V605.0A39.2 6.6 0 0 0 2236.4 605.0V583.1Z" fill="#b6d7a8" stroke="#5a5a5a" stroke-width="0.9"/><path d="M2157.9 564.2V583.1A39.2 6.6 0 0 0 2236.4 583.1V564.2Z" fill="#9fc5e8" stroke="#5a5a5a" stroke-width="0.9"/><path d="M2157.9 543.0V564.2A39.2 6.6 0 0 0 2236.4 564.2V543.0Z" fill="#b6d7a8" stroke="#5a5a5a" stroke-width="0.9"/><path d="M2157.9 524.1V543.0A39.2 6.6 0 0 0 2236.4 543.0V524.1Z" fill="#b6d7a8" stroke="#5a5a5a" stroke-width="0.9"/><path d="M2157.9 506.4V524.1A39.2 6.6 0 0 0 2236.4 524.1V506.4Z" fill="#9fc5e8" stroke="#5a5a5a" stroke-width="0.9"/><ellipse cx="2197.2" cy="506.4" rx="39.2" ry="6.6" fill="#9fc5e8" stroke="#5a5a5a" stroke-width="0.9"/><path d="M1881.8 527.6 H1953.5" stroke="#555" stroke-width="1.8" marker-end="url(#k3)"/><path d="M1881.8 553.6 H1953.5" stroke="#555" stroke-width="1.8" marker-end="url(#k3)"/><path d="M1881.8 638.5 H1953.5" stroke="#555" stroke-width="1.8" marker-end="url(#k3)"/><path d="M2097 570.1H2156.5" stroke="#555" stroke-width="1.8" marker-end="url(#k3)"/><path d="M2136.6 389.6H2234" stroke="#555" stroke-width="1.8" stroke-dasharray="10.5 7" marker-end="url(#k3)"/><path d="M2191.4 339.3V425" stroke="#555" stroke-width="1.8"/><path d="M2196.8 499.3C2198 466 2268 462 2276.5 418" fill="none" stroke="#555" stroke-width="1.2" stroke-dasharray="6 4" marker-end="url(#k3s)"/><path d="M2236.4 556C2244 557 2248 561 2255 565" fill="none" stroke="#555" stroke-width="1.2" stroke-dasharray="5 3" marker-end="url(#k3s)"/><circle cx="1916.7" cy="570" r="3.8" fill="#000"/><circle cx="1916.7" cy="589.5" r="3.8" fill="#000"/><circle cx="1916.7" cy="608.6" r="3.8" fill="#000"/><path d="M2297.6 393.6L2311 394.5" stroke="#f4b8c0" stroke-width="1.2"/><path d="M2313 394.6l-5 -2.5v5z" fill="#f4b8c0"/><path d="M2297.6 566L2311 561.5" stroke="#cfe2f3" stroke-width="1.2"/><path d="M2313.5 560.6l-5.5 -0.6l1.6 4.6z" fill="#cfe2f3"/></svg>
<div class="w" style="left:1969.8px;top:523.4px;width:127.2px;height:99px;background:#f9cb9c;border:1px solid #777;box-sizing:border-box;"></div>
<div class="a m" style="left:1972.6px;top:541.3px;font-size:16.5px;line-height:21.4px;color:#222;font-family:'Liberation Serif',serif;letter-spacing:0.30px;">if <i>S<sub>i</sub></i> = 1,&nbsp; pick <i>x</i><span class="ss"><span>in</span><span><i>i</i></span></span></div>
<div class="a m" style="left:1972.6px;top:567.3px;font-size:16.5px;line-height:21.4px;color:#222;font-family:'Liberation Serif',serif;letter-spacing:0.50px;"><i>else</i>,&nbsp; pick <i>x</i><span class="ss"><span>gen</span><span><i>i</i></span></span></div>
<div class="a m" style="left:1725.9px;top:521.5px;font-size:17px;line-height:22.1px;color:#222;font-family:'Liberation Serif',serif;"><i>x</i><span class="ss"><span>in</span><span>1</span></span></div>
<div class="a m" style="left:1725.9px;top:539.2px;font-size:17px;line-height:22.1px;color:#222;font-family:'Liberation Serif',serif;"><i>x</i><span class="ss"><span>in</span><span>2</span></span></div>
<div class="a m" style="left:1725.9px;top:621.8px;font-size:17px;line-height:22.1px;color:#222;font-family:'Liberation Serif',serif;"><i>x</i><span class="ss"><span>in</span><span><i>m</i></span></span></div>
<div class="a m" style="left:1814.4px;top:521.5px;font-size:17px;line-height:22.1px;color:#222;font-family:'Liberation Serif',serif;"><i>x</i><span class="ss"><span>gen</span><span>1</span></span></div>
<div class="a m" style="left:1814.4px;top:539.9px;font-size:17px;line-height:22.1px;color:#222;font-family:'Liberation Serif',serif;"><i>x</i><span class="ss"><span>gen</span><span>2</span></span></div>
<div class="a m" style="left:1814.4px;top:622.5px;font-size:17px;line-height:22.1px;color:#222;font-family:'Liberation Serif',serif;"><i>x</i><span class="ss"><span>gen</span><span><i>m</i></span></span></div>
<div class="w" style="left:1737.0px;top:572.757385559226px;width:1.8px;height:1.8px;background:#333;border-radius:1px;"></div>
<div class="w" style="left:1737.0px;top:591.6342142520057px;width:1.8px;height:1.8px;background:#333;border-radius:1px;"></div>
<div class="w" style="left:1737.0px;top:613.5785276073619px;width:1.8px;height:1.8px;background:#333;border-radius:1px;"></div>
<div class="w" style="left:1829.5px;top:574.4091080698443px;width:1.8px;height:1.8px;background:#333;border-radius:1px;"></div>
<div class="w" style="left:1829.5px;top:593.2859367626239px;width:1.8px;height:1.8px;background:#333;border-radius:1px;"></div>
<div class="w" style="left:1829.5px;top:615.2302501179802px;width:1.8px;height:1.8px;background:#333;border-radius:1px;"></div>
<div class="w" style="left:2195.9px;top:564.4987730061349px;width:1.8px;height:1.8px;background:#333;border-radius:1px;"></div>
<div class="w" style="left:2195.9px;top:582.1957999056159px;width:1.8px;height:1.8px;background:#333;border-radius:1px;"></div>
<div class="w" style="left:2195.9px;top:604.6120339782916px;width:1.8px;height:1.8px;background:#333;border-radius:1px;"></div>
<div class="a m" style="left:2184.8px;top:512.1px;font-size:17px;line-height:22.1px;color:#222;font-family:'Liberation Serif',serif;"><i>x</i><span class="ss"><span>in</span><span>1</span></span></div>
<div class="a m" style="left:2182.0px;top:531.3px;font-size:15.5px;line-height:20.2px;color:#222;font-family:'Liberation Serif',serif;"><i>x</i><span class="ss"><span>gen</span><span>2</span></span></div>
<div class="a m" style="left:2184.8px;top:613.6px;font-size:17px;line-height:22.1px;color:#222;font-family:'Liberation Serif',serif;"><i>x</i><span class="ss"><span>in</span><span><i>m</i></span></span></div>
<div class="a m" style="left:1724.0px;top:647.8px;font-size:18px;line-height:23.4px;color:#222;font-family:'Liberation Serif',serif;"><i>D</i><span class="ss"><span>te</span><span>in</span></span></div>
<div class="a m" style="left:1816.0px;top:650.8px;font-size:16.5px;line-height:21.4px;color:#222;font-family:'Liberation Serif',serif;"><i>D</i><span class="ss"><span>te</span><span>out</span></span></div>
<div class="a m" style="left:1891.0px;top:507.2px;font-size:11.5px;line-height:15.0px;color:#444;font-family:'Liberation Serif',serif;letter-spacing:0.10px;"><svg width="11" height="12" style="position:relative;display:inline-block;vertical-align:-1px;margin-right:5px" viewBox="0 0 11 12"><path d="M1 6.5h2.5v5H1zM3.5 7L5.5 3.5C5.7 2.3 7 2.6 6.8 4L6.4 5.8H9.6V11H3.5M7.2 1.2l1 .6M8.8 3.2h1.1M6 .5v1.2" fill="none" stroke="#888" stroke-width="0.7"/></svg><i>S</i><sub>1</sub> <svg width="7.1" height="6.4" style="position:relative;display:inline-block;vertical-align:-0.02em;margin:0 0.08em" viewBox="0 0 50 46"><path d="M46 4H26C12 4 4 12 4 23C4 34 12 42 26 42H46M4 23H44" fill="none" stroke="#444" stroke-width="5.6"/></svg> {0, 1}</div>
<div class="a m" style="left:1891.0px;top:533.2px;font-size:11.5px;line-height:15.0px;color:#444;font-family:'Liberation Serif',serif;letter-spacing:0.10px;"><svg width="11" height="12" style="position:relative;display:inline-block;vertical-align:-1px;margin-right:5px" viewBox="0 0 11 12"><path d="M1 6.5h2.5v5H1zM3.5 7L5.5 3.5C5.7 2.3 7 2.6 6.8 4L6.4 5.8H9.6V11H3.5M7.2 1.2l1 .6M8.8 3.2h1.1M6 .5v1.2" fill="none" stroke="#888" stroke-width="0.7"/></svg><i>S</i><sub>2</sub> <svg width="7.1" height="6.4" style="position:relative;display:inline-block;vertical-align:-0.02em;margin:0 0.08em" viewBox="0 0 50 46"><path d="M46 4H26C12 4 4 12 4 23C4 34 12 42 26 42H46M4 23H44" fill="none" stroke="#444" stroke-width="5.6"/></svg> {0, 1}</div>
<div class="a m" style="left:1891.0px;top:617.2px;font-size:11.5px;line-height:15.0px;color:#444;font-family:'Liberation Serif',serif;letter-spacing:0.10px;"><svg width="11" height="12" style="position:relative;display:inline-block;vertical-align:-1px;margin-right:5px" viewBox="0 0 11 12"><path d="M1 6.5h2.5v5H1zM3.5 7L5.5 3.5C5.7 2.3 7 2.6 6.8 4L6.4 5.8H9.6V11H3.5M7.2 1.2l1 .6M8.8 3.2h1.1M6 .5v1.2" fill="none" stroke="#888" stroke-width="0.7"/></svg><i>S</i><sub><i>m</i></sub> <svg width="7.1" height="6.4" style="position:relative;display:inline-block;vertical-align:-0.02em;margin:0 0.08em" viewBox="0 0 50 46"><path d="M46 4H26C12 4 4 12 4 23C4 34 12 42 26 42H46M4 23H44" fill="none" stroke="#444" stroke-width="5.6"/></svg> {0, 1}</div>
<div class="a" style="left:2170.4px;top:429.9px;font-size:11.5px;line-height:15.0px;color:#111;letter-spacing:0.11px;">Privacy</div>
<div class="a" style="left:2170.4px;top:446.0px;font-size:11.5px;line-height:15.0px;color:#111;letter-spacing:0.54px;">barrier</div>
<div class="w" style="left:2257.7px;top:374.3px;width:40px;height:39px;background:#f4cccc;box-shadow:0 1.5px 3px rgba(0,0,0,0.35);"></div>
<div class="w" style="left:2257.7px;top:547px;width:40px;height:39.2px;background:#cfe2f3;box-shadow:0 1.5px 3px rgba(0,0,0,0.35);"></div>
<svg width="25.0" height="25.0" style="left:2264.5px;top:382.5px" viewBox="-10 -10 20 20"><circle r="9" fill="#fcc21b"/><ellipse cx="-3.2" cy="-2" rx="1.2" ry="1.6" fill="#5a3a12"/><ellipse cx="3" cy="-2.4" rx="1.2" ry="1.6" fill="#5a3a12"/><path d="M-5.5 -5.5Q-3.5 -7 -1.2 -5.6M1.2 -6.8Q3.5 -7.6 5.4 -6" stroke="#5a3a12" stroke-width="1" fill="none" stroke-linecap="round"/><path d="M-2 3.2Q1 2 3.6 3" stroke="#5a3a12" stroke-width="1" fill="none" stroke-linecap="round"/><path d="M-7.5 9.5C-8 6 -6 4.5 -3.5 5.5L1.5 4.2C2.6 4 2.8 5.4 1.8 5.8L-1.6 7C-1 8.6 -2 9.8 -4 10Z" fill="#f5a51b" stroke="#d68a10" stroke-width="0.5"/></svg>
<svg width="25.0" height="25.0" style="left:2264.5px;top:555.3px" viewBox="-10 -10 20 20"><circle r="9" fill="#fcc21b"/><ellipse cx="-3.2" cy="-2" rx="1.2" ry="1.6" fill="#5a3a12"/><ellipse cx="3" cy="-2.4" rx="1.2" ry="1.6" fill="#5a3a12"/><path d="M-5.5 -5.5Q-3.5 -7 -1.2 -5.6M1.2 -6.8Q3.5 -7.6 5.4 -6" stroke="#5a3a12" stroke-width="1" fill="none" stroke-linecap="round"/><path d="M-2 3.2Q1 2 3.6 3" stroke="#5a3a12" stroke-width="1" fill="none" stroke-linecap="round"/><path d="M-7.5 9.5C-8 6 -6 4.5 -3.5 5.5L1.5 4.2C2.6 4 2.8 5.4 1.8 5.8L-1.6 7C-1 8.6 -2 9.8 -4 10Z" fill="#f5a51b" stroke="#d68a10" stroke-width="0.5"/></svg>
<div class="w" style="left:2312.4px;top:334.9px;width:151.5px;height:109.4px;background:#f4cccc;border:1px solid #777;box-sizing:border-box;"></div>
<div class="w" style="left:2317.1px;top:433.3px;width:142.8px;height:33.5px;background:#ea9999;"></div>
<div class="a" style="left:2375.5px;top:441.4px;font-size:15px;line-height:19.5px;color:#111;letter-spacing:-0.22px;">MIA</div>
<div class="w" style="left:2312px;top:498.6px;width:151.9px;height:109.3px;background:#cfe2f3;border:1px solid #777;box-sizing:border-box;"></div>
<div class="w" style="left:2317.1px;top:600.1px;width:142.8px;height:33.3px;background:#a4c2f4;"></div>
<div class="a" style="left:2326.6px;top:607.7px;font-size:15px;line-height:19.5px;color:#111;letter-spacing:-0.57px;">Baseline Classifier b</div>
<div class="a m" style="left:2314.8px;top:341.1px;font-size:17px;line-height:22.1px;color:#444;font-family:'Liberation Serif',serif;letter-spacing:-1.67px;"><span style="display:inline-block;transform:rotate(180deg);font-family:'Liberation Sans',sans-serif;font-size:88%;position:relative;top:-0.06em">A</span><i>i</i> <svg width="10.5" height="9.5" style="position:relative;display:inline-block;vertical-align:-0.02em;margin:0 0.08em" viewBox="0 0 50 46"><path d="M46 4H26C12 4 4 12 4 23C4 34 12 42 26 42H46M4 23H44" fill="none" stroke="#444" stroke-width="4.4"/></svg> {1, 2, · · · , <i>m</i>}</div>
<div class="a m" style="left:2314.8px;top:504.8px;font-size:17px;line-height:22.1px;color:#444;font-family:'Liberation Serif',serif;letter-spacing:-1.67px;"><span style="display:inline-block;transform:rotate(180deg);font-family:'Liberation Sans',sans-serif;font-size:88%;position:relative;top:-0.06em">A</span><i>i</i> <svg width="10.5" height="9.5" style="position:relative;display:inline-block;vertical-align:-0.02em;margin:0 0.08em" viewBox="0 0 50 46"><path d="M46 4H26C12 4 4 12 4 23C4 34 12 42 26 42H46M4 23H44" fill="none" stroke="#444" stroke-width="4.4"/></svg> {1, 2, · · · , <i>m</i>}</div>
<div class="a m" style="left:2315.3px;top:370.0px;font-size:11.7px;line-height:15.2px;color:#333;font-family:'Liberation Serif',serif;letter-spacing:0.48px;">member prediction : <i>T</i><span class="ss"><span><i>a</i></span><span><i>i</i></span></span> = +1</div>
<div class="a m" style="left:2315.3px;top:387.0px;font-size:11.7px;line-height:15.2px;color:#333;font-family:'Liberation Serif',serif;letter-spacing:1.02px;">abstain to predict : <i>T</i><span class="ss"><span><i>a</i></span><span><i>i</i></span></span> = 0</div>
<div class="a m" style="left:2315.3px;top:536.1px;font-size:11.7px;line-height:15.2px;color:#333;font-family:'Liberation Serif',serif;letter-spacing:1.35px;">real prediction : <i>T</i><span class="ss"><span><i>b</i></span><span><i>i</i></span></span> = +1</div>
<div class="a m" style="left:2315.3px;top:555.7px;font-size:11.7px;line-height:15.2px;color:#333;font-family:'Liberation Serif',serif;letter-spacing:1.02px;">abstain to predict : <i>T</i><span class="ss"><span><i>b</i></span><span><i>i</i></span></span> = 0</div>

<!-- ===== SECTION 3b: equations, text, conclusion ===== -->
<svg width="16.2" height="19.4" style="left:1660.5px;top:739.4px" viewBox="0 0 56 68"><path d="M9 2V66M19 2V66M2 2H30M2 66H27M19 2H32C47 2 53 10 53 19C53 29 47 36 32 36H19" fill="none" stroke="#444" stroke-width="4.2"/></svg>
<div class="a m" style="left:1675.0px;top:747.4px;font-size:19.5px;line-height:25.4px;color:#3d3d3d;font-family:'Liberation Serif',serif;letter-spacing:0.50px;"><i>S,X,T<sup>b</sup></i></div>
<svg width="7" height="77.6" style="left:1736.0px;top:711.7px" viewBox="0 0 7 77.6"><path d="M7 1H1V76.6H7" fill="none" stroke="#333" stroke-width="1.8"/></svg>
<svg width="26" height="39" style="left:1745.0px;top:728.6px" viewBox="0 0 26 39"><path d="M24.5 7V1.2H1.5L13.0 18.3L1.5 37.2H24.5V31.0" fill="none" stroke="#333" stroke-width="1.5" stroke-linejoin="miter"/><path d="M1.5 1.2L13.0 18.3" stroke="#333" stroke-width="3.2"/><path d="M2 36.8H24" stroke="#333" stroke-width="2.6"/></svg>
<div class="a m" style="left:1750.0px;top:705.8px;font-size:19.5px;line-height:25.4px;color:#3d3d3d;font-family:'Liberation Serif',serif;"><i>m</i></div>
<div class="a m" style="left:1744.5px;top:770.8px;font-size:19px;line-height:24.7px;color:#3d3d3d;font-family:'Liberation Serif',serif;letter-spacing:-0.20px;"><i>i</i>=1</div>
<div class="a m" style="left:1774.6px;top:730.6px;font-size:29px;line-height:37.7px;color:#3d3d3d;font-family:'Liberation Serif',serif;"><i>T</i><span class="ss"><span><i>b</i></span><span><i>i</i></span></span></div>
<div class="a m" style="left:1805.0px;top:730.6px;font-size:29px;line-height:37.7px;color:#3d3d3d;font-family:'Liberation Serif',serif;">·</div>
<div class="a m" style="left:1814.4px;top:730.6px;font-size:29px;line-height:37.7px;color:#3d3d3d;font-family:'Liberation Serif',serif;"><i>S<sub>i</sub></i></div>
<div class="a m" style="left:1846.9px;top:730.6px;font-size:29px;line-height:37.7px;color:#3d3d3d;font-family:'Liberation Serif',serif;">≥</div>
<div class="a m" style="left:1868.6px;top:730.6px;font-size:29px;line-height:37.7px;color:#3d3d3d;font-family:'Liberation Serif',serif;"><i>v</i></div>
<div class="a m" style="left:1889.5px;top:730.6px;font-size:29px;line-height:37.7px;color:#3d3d3d;font-family:'Liberation Serif',serif;">|</div>
<div class="a m" style="left:1899.3px;top:730.6px;font-size:29px;line-height:37.7px;color:#3d3d3d;font-family:'Liberation Serif',serif;"><i>T</i><sup><i>b</i></sup></div>
<div class="a m" style="left:1927.5px;top:730.6px;font-size:29px;line-height:37.7px;color:#3d3d3d;font-family:'Liberation Serif',serif;">=</div>
<div class="a m" style="left:1949.9px;top:730.6px;font-size:29px;line-height:37.7px;color:#3d3d3d;font-family:'Liberation Serif',serif;"><i>t</i><sup><i>b</i></sup></div>
<svg width="7" height="77.6" style="left:1965.5px;top:711.7px" viewBox="0 0 7 77.6"><path d="M0 1H6V76.6H0" fill="none" stroke="#333" stroke-width="1.8"/></svg>
<div class="a m" style="left:1998.6px;top:732.5px;font-size:27px;line-height:35.1px;color:#444;font-family:'Liberation Serif',serif;letter-spacing:0.50px;">≤ <svg width="15.7" height="18.8" style="position:relative;display:inline-block;vertical-align:0;margin-right:0.02em" viewBox="0 0 56 68"><path d="M9 2V66M19 2V66M2 2H30M2 66H27M19 2H32C47 2 53 10 53 19C53 29 47 36 32 36H19" fill="none" stroke="#444" stroke-width="4.2"/></svg></div>
<div class="a m" style="left:2029.6px;top:747.4px;font-size:18.5px;line-height:24.1px;color:#3d3d3d;font-family:'Liberation Serif',serif;letter-spacing:0.62px;"><i>S</i>′~Bernoulli(</div>
<div class="a m" style="left:2131.0px;top:749.6px;font-size:12px;line-height:11px;color:#666;text-align:center;width:40px;"><div style="border-bottom:1px solid #777;display:inline-block;padding:0 1px"><i>e</i><sup><i>c</i></sup></div><br><i>e</i><sup><i>c</i></sup>+1</div>
<div class="a m" style="left:2164.5px;top:746.4px;font-size:17px;line-height:22.1px;color:#555;font-family:'Liberation Serif',serif;">)<sup><i>m</i></sup></div>
<div class="w" style="left:2137px;top:737px;width:29.6px;height:20.6px;border:1.3px solid #1f1fff;box-sizing:border-box;"></div>
<svg width="7" height="77.6" style="left:2185.8px;top:711.7px" viewBox="0 0 7 77.6"><path d="M7 1H1V76.6H7" fill="none" stroke="#333" stroke-width="1.8"/></svg>
<svg width="26" height="39" style="left:2192.0px;top:728.6px" viewBox="0 0 26 39"><path d="M24.5 7V1.2H1.5L13.0 18.3L1.5 37.2H24.5V31.0" fill="none" stroke="#333" stroke-width="1.5" stroke-linejoin="miter"/><path d="M1.5 1.2L13.0 18.3" stroke="#333" stroke-width="3.2"/><path d="M2 36.8H24" stroke="#333" stroke-width="2.6"/></svg>
<div class="a m" style="left:2197.0px;top:705.8px;font-size:19.5px;line-height:25.4px;color:#3d3d3d;font-family:'Liberation Serif',serif;"><i>m</i></div>
<div class="a m" style="left:2191.5px;top:770.8px;font-size:19px;line-height:24.7px;color:#3d3d3d;font-family:'Liberation Serif',serif;letter-spacing:-0.20px;"><i>i</i>=1</div>
<div class="a m" style="left:2222.6px;top:730.6px;font-size:29px;line-height:37.7px;color:#3d3d3d;font-family:'Liberation Serif',serif;"><i>S</i><span class="ss"><span>′</span><span><i>i</i></span></span></div>
<div class="a m" style="left:2244.0px;top:730.6px;font-size:29px;line-height:37.7px;color:#3d3d3d;font-family:'Liberation Serif',serif;">·</div>
<div class="a m" style="left:2254.0px;top:730.6px;font-size:29px;line-height:37.7px;color:#3d3d3d;font-family:'Liberation Serif',serif;"><i>t</i><span class="ss"><span><i>b</i></span><span><i>i</i></span></span></div>
<div class="a m" style="left:2275.5px;top:730.6px;font-size:29px;line-height:37.7px;color:#3d3d3d;font-family:'Liberation Serif',serif;">≥</div>
<div class="a m" style="left:2293.5px;top:730.6px;font-size:29px;line-height:37.7px;color:#3d3d3d;font-family:'Liberation Serif',serif;"><i>v</i></div>
<svg width="7" height="77.6" style="left:2305.0px;top:711.7px" viewBox="0 0 7 77.6"><path d="M0 1H6V76.6H0" fill="none" stroke="#333" stroke-width="1.8"/></svg>
<svg width="16.2" height="19.4" style="left:1660.5px;top:838.0px" viewBox="0 0 56 68"><path d="M9 2V66M19 2V66M2 2H30M2 66H27M19 2H32C47 2 53 10 53 19C53 29 47 36 32 36H19" fill="none" stroke="#444" stroke-width="4.2"/></svg>
<div class="a m" style="left:1675.0px;top:846.0px;font-size:19.5px;line-height:25.4px;color:#3d3d3d;font-family:'Liberation Serif',serif;letter-spacing:0.50px;"><i>S,X,T<sup>a</sup></i></div>
<svg width="7" height="77.6" style="left:1736.0px;top:810.3px" viewBox="0 0 7 77.6"><path d="M7 1H1V76.6H7" fill="none" stroke="#333" stroke-width="1.8"/></svg>
<svg width="26" height="39" style="left:1745.0px;top:827.2px" viewBox="0 0 26 39"><path d="M24.5 7V1.2H1.5L13.0 18.3L1.5 37.2H24.5V31.0" fill="none" stroke="#333" stroke-width="1.5" stroke-linejoin="miter"/><path d="M1.5 1.2L13.0 18.3" stroke="#333" stroke-width="3.2"/><path d="M2 36.8H24" stroke="#333" stroke-width="2.6"/></svg>
<div class="a m" style="left:1750.0px;top:804.4px;font-size:19.5px;line-height:25.4px;color:#3d3d3d;font-family:'Liberation Serif',serif;"><i>m</i></div>
<div class="a m" style="left:1744.5px;top:869.4px;font-size:19px;line-height:24.7px;color:#3d3d3d;font-family:'Liberation Serif',serif;letter-spacing:-0.20px;"><i>i</i>=1</div>
<div class="a m" style="left:1774.6px;top:829.2px;font-size:29px;line-height:37.7px;color:#3d3d3d;font-family:'Liberation Serif',serif;"><i>T</i><span class="ss"><span><i>a</i></span><span><i>i</i></span></span></div>
<div class="a m" style="left:1804.0px;top:829.2px;font-size:29px;line-height:37.7px;color:#3d3d3d;font-family:'Liberation Serif',serif;">·</div>
<div class="a m" style="left:1813.3px;top:829.2px;font-size:29px;line-height:37.7px;color:#3d3d3d;font-family:'Liberation Serif',serif;"><i>S<sub>i</sub></i></div>
<div class="a m" style="left:1845.0px;top:829.2px;font-size:29px;line-height:37.7px;color:#3d3d3d;font-family:'Liberation Serif',serif;">≥</div>
<div class="a m" style="left:1866.0px;top:829.2px;font-size:29px;line-height:37.7px;color:#3d3d3d;font-family:'Liberation Serif',serif;"><i>v</i></div>
<div class="a m" style="left:1884.8px;top:829.2px;font-size:29px;line-height:37.7px;color:#3d3d3d;font-family:'Liberation Serif',serif;">|</div>
<div class="a m" style="left:1895.0px;top:829.2px;font-size:29px;line-height:37.7px;color:#3d3d3d;font-family:'Liberation Serif',serif;"><i>T</i><sup><i>a</i></sup></div>
<div class="a m" style="left:1923.8px;top:829.2px;font-size:29px;line-height:37.7px;color:#3d3d3d;font-family:'Liberation Serif',serif;">=</div>
<div class="a m" style="left:1944.4px;top:829.2px;font-size:29px;line-height:37.7px;color:#3d3d3d;font-family:'Liberation Serif',serif;"><i>t</i><sup><i>a</i></sup></div>
<svg width="7" height="77.6" style="left:1961.2px;top:810.3px" viewBox="0 0 7 77.6"><path d="M0 1H6V76.6H0" fill="none" stroke="#333" stroke-width="1.8"/></svg>
<div class="a m" style="left:2007.7px;top:831.1px;font-size:27px;line-height:35.1px;color:#444;font-family:'Liberation Serif',serif;letter-spacing:0.50px;">≤ <svg width="15.7" height="18.8" style="position:relative;display:inline-block;vertical-align:0;margin-right:0.02em" viewBox="0 0 56 68"><path d="M9 2V66M19 2V66M2 2H30M2 66H27M19 2H32C47 2 53 10 53 19C53 29 47 36 32 36H19" fill="none" stroke="#444" stroke-width="4.2"/></svg></div>
<div class="a m" style="left:2038.7px;top:846.0px;font-size:18.5px;line-height:24.1px;color:#3d3d3d;font-family:'Liberation Serif',serif;letter-spacing:0.07px;"><i>S</i>′~Bernoulli(</div>
<div class="a m" style="left:2133.0px;top:848.2px;font-size:12px;line-height:11px;color:#666;text-align:center;width:40px;"><div style="border-bottom:1px solid #777;display:inline-block;padding:0 1px"><i>e</i><sup><i>c</i>+<i>ϵ</i></sup></div><br><i>e</i><sup><i>c</i>+<i>ϵ</i></sup>+1</div>
<div class="a m" style="left:2170.0px;top:845.0px;font-size:17px;line-height:22.1px;color:#555;font-family:'Liberation Serif',serif;">)<sup><i>m</i></sup></div>
<div class="w" style="left:2138.8px;top:836.3000000000001px;width:29.6px;height:20.6px;border:1.3px solid #f03030;box-sizing:border-box;"></div>
<svg width="7" height="77.6" style="left:2195.5px;top:810.3px" viewBox="0 0 7 77.6"><path d="M7 1H1V76.6H7" fill="none" stroke="#333" stroke-width="1.8"/></svg>
<svg width="26" height="39" style="left:2201.7px;top:827.2px" viewBox="0 0 26 39"><path d="M24.5 7V1.2H1.5L13.0 18.3L1.5 37.2H24.5V31.0" fill="none" stroke="#333" stroke-width="1.5" stroke-linejoin="miter"/><path d="M1.5 1.2L13.0 18.3" stroke="#333" stroke-width="3.2"/><path d="M2 36.8H24" stroke="#333" stroke-width="2.6"/></svg>
<div class="a m" style="left:2206.7px;top:804.4px;font-size:19.5px;line-height:25.4px;color:#3d3d3d;font-family:'Liberation Serif',serif;"><i>m</i></div>
<div class="a m" style="left:2201.2px;top:869.4px;font-size:19px;line-height:24.7px;color:#3d3d3d;font-family:'Liberation Serif',serif;letter-spacing:-0.20px;"><i>i</i>=1</div>
<div class="a m" style="left:2230.6px;top:829.2px;font-size:29px;line-height:37.7px;color:#3d3d3d;font-family:'Liberation Serif',serif;"><i>S</i><span class="ss"><span>′</span><span><i>i</i></span></span></div>
<div class="a m" style="left:2252.0px;top:829.2px;font-size:29px;line-height:37.7px;color:#3d3d3d;font-family:'Liberation Serif',serif;">·</div>
<div class="a m" style="left:2261.3px;top:829.2px;font-size:29px;line-height:37.7px;color:#3d3d3d;font-family:'Liberation Serif',serif;"><i>t</i><span class="ss"><span><i>a</i></span><span><i>i</i></span></span></div>
<div class="a m" style="left:2282.0px;top:829.2px;font-size:29px;line-height:37.7px;color:#3d3d3d;font-family:'Liberation Serif',serif;">≥</div>
<div class="a m" style="left:2299.5px;top:829.2px;font-size:29px;line-height:37.7px;color:#3d3d3d;font-family:'Liberation Serif',serif;"><i>v</i></div>
<svg width="7" height="77.6" style="left:2307.0px;top:810.3px" viewBox="0 0 7 77.6"><path d="M0 1H6V76.6H0" fill="none" stroke="#333" stroke-width="1.8"/></svg>
<div class="w" style="left:2339.3px;top:713.5px;width:146.3px;height:61.4px;background:#ddecfd;border:1px solid #6c9be4;border-radius:13px;box-sizing:border-box;"></div>
<div class="a" style="left:2381.0px;top:733.1px;font-size:19px;line-height:24.7px;color:#111;letter-spacing:-0.10px;">baseline</div>
<div class="w" style="left:2339.3px;top:810.3px;width:146.3px;height:61.4px;background:#fdd9d9;border:1px solid #f0474f;border-radius:13px;box-sizing:border-box;"></div>
<div class="a" style="left:2395.0px;top:831.5px;font-size:19px;line-height:24.7px;color:#111;letter-spacing:0.41px;">MIA</div>
<div class="dot" style="left:1683.2px;top:940.7px;width:8px;height:8px"></div>
<div class="a" style="left:1710.3px;top:923.6px;font-size:26.5px;line-height:34.5px;color:#111;letter-spacing:0.49px;">The baseline and MIA classifiers provide us with predictions</div>
<div class="a" style="left:1710.3px;top:972.4px;font-size:26.5px;line-height:34.5px;color:#111;letter-spacing:-0.83px;">T<sup>b</sup> and T<sup>a</sup> .</div>
<div class="dot" style="left:1683.2px;top:1034.8px;width:8px;height:8px"></div>
<div class="a" style="left:1710.3px;top:1020.2px;font-size:26.5px;line-height:34.5px;color:#111;letter-spacing:0.11px;">Then, we formalize a similar hypothesis test to that of O(1) for our</div>
<div class="a" style="left:1710.3px;top:1053.4px;font-size:26.5px;line-height:34.5px;color:#111;letter-spacing:-0.23px;">baseline and MIA to get c<sub>lb</sub> and ϵ+c<sub>lb</sub> via T<sup>b</sup> and T<sup>a</sup> respectively.</div>
<div class="a" style="left:1698.0px;top:1143.4px;font-size:25px;line-height:32.5px;color:#111;letter-spacing:0.05px;">We can reject</div>
<svg width="30" height="26" style="left:1866px;top:1145.2px" viewBox="0 0 30 26"><path d="M2 8C2 3 8 1 10.5 4C8.5 10 7 16 4.5 22M23 3.5C21 10 19.5 16 18.5 21C18.3 23.5 21 23.5 23 21M7 12.5C12 11.5 17 12.5 21 11.5M20.5 5C21.5 2 26.5 2 25.5 5.5" fill="none" stroke="#222" stroke-width="1.7" stroke-linecap="round"/></svg>
<div class="a" style="left:1908.3px;top:1143.4px;font-size:25px;line-height:32.5px;color:#111;letter-spacing:0.15px;">at confidence level</div>
<div class="a m" style="left:2134.0px;top:1137.7px;font-size:31px;line-height:40.3px;color:#444;font-family:'Liberation Serif',serif;"><i>β</i></div>
<div class="a" style="left:2162.3px;top:1143.4px;font-size:25px;line-height:32.5px;color:#111;letter-spacing:0.27px;">by setting</div>
<div class="a m" style="left:2285.8px;top:1136.7px;font-size:32px;line-height:41.6px;color:#444;font-family:'Liberation Serif',serif;letter-spacing:1.90px;"><i>β<sup>a</sup></i> = <i>β<sup>b</sup></i> =</div>
<div class="a m" style="left:2434px;top:1138.7px;font-size:19px;line-height:19px;color:#444;text-align:center;width:22px;"><div style="border-bottom:1.2px solid #555;"><i>β</i></div>2</div>
<div class="a" style="left:1694.4px;top:1211.4px;font-size:25px;line-height:32.5px;color:#111;letter-spacing:0.29px;">and if either</div>
<div class="a m" style="left:1842.3px;top:1208.1px;font-size:28.5px;line-height:37.1px;color:#222;font-family:'Liberation Serif',serif;letter-spacing:0.28px;">prec<sup><i>b</i></sup> ≥</div>
<div class="w" style="left:1943.3px;top:1230.8000000000002px;width:49.4px;height:1.2px;background:#555;"></div>
<div class="a m" style="left:1943.3px;top:1205.2px;width:49.4px;text-align:center;font-size:20px;line-height:26.0px;color:#333;letter-spacing:0.8px;"><i>e<sup>c</sup></i></div>
<div class="a m" style="left:1943.3px;top:1227.0px;width:49.4px;text-align:center;font-size:20px;line-height:26.0px;color:#333;letter-spacing:0.8px;">1+<i>e<sup>c</sup></i></div>
<div class="a m" style="left:1999.5px;top:1207.2px;font-size:31px;line-height:40.3px;color:#333;font-family:'Liberation Serif',serif;">+</div>
<svg width="118.9" height="50.8" style="left:2025.6px;top:1200.2px" viewBox="0 0 118.9 50.8"><path d="M0.5 31.5L4 29.0L10.8 49.3L23.9 1H117.9" fill="none" stroke="#333" stroke-width="1.5" stroke-linejoin="miter"/></svg>
<div class="w" style="left:2053px;top:1230.8000000000002px;width:87px;height:1.2px;background:#555;"></div>
<div class="a m" style="left:2053.0px;top:1204.5px;width:87.0px;text-align:center;font-size:19.5px;line-height:25.35px;color:#333;letter-spacing:1.4px;">log(2/<i>β</i>)</div>
<div class="a m" style="left:2053.0px;top:1227.5px;width:87.0px;text-align:center;font-size:19.5px;line-height:25.35px;color:#333;letter-spacing:1.4px;">2<i>r<sup>b</sup></i></div>
<div class="a" style="left:2149.4px;top:1211.4px;font-size:25px;line-height:32.5px;color:#111;">or</div>
<div class="a m" style="left:2183.4px;top:1208.1px;font-size:25.5px;line-height:33.1px;color:#222;font-family:'Liberation Serif',serif;letter-spacing:0.43px;">prec<sup><i>a</i></sup> ≥</div>
<div class="w" style="left:2274px;top:1226.4px;width:65px;height:1.2px;background:#555;"></div>
<div class="a m" style="left:2274.0px;top:1201.0px;width:65.0px;text-align:center;font-size:17.5px;line-height:22.75px;color:#333;letter-spacing:0.9px;"><i>e</i><sup><i>c</i>+<i>ϵ</i></sup></div>
<div class="a m" style="left:2274.0px;top:1222.7px;width:65.0px;text-align:center;font-size:17.5px;line-height:22.75px;color:#333;letter-spacing:0.9px;">1+<i>e</i><sup><i>c</i>+<i>ϵ</i></sup></div>
<div class="a m" style="left:2349.0px;top:1206.1px;font-size:28px;line-height:36.4px;color:#333;font-family:'Liberation Serif',serif;">+</div>
<svg width="105.7" height="47.2" style="left:2375.0px;top:1198.5px" viewBox="0 0 105.7 47.2"><path d="M0.5 29.3L4 26.9L10.1 45.7L22.5 1H104.7" fill="none" stroke="#333" stroke-width="1.5" stroke-linejoin="miter"/></svg>
<div class="w" style="left:2401.7px;top:1225.6000000000001px;width:75.3px;height:1.2px;background:#555;"></div>
<div class="a m" style="left:2401.7px;top:1201.4px;width:75.3px;text-align:center;font-size:16.8px;line-height:21.840000000000003px;color:#333;letter-spacing:1.2px;">log(2/<i>β</i>)</div>
<div class="a m" style="left:2401.7px;top:1223.4px;width:75.3px;text-align:center;font-size:16.8px;line-height:21.840000000000003px;color:#333;letter-spacing:1.2px;">2<i>r<sup>a</sup></i></div>
<div class="a m" style="left:2481.5px;top:1214.6px;font-size:22px;line-height:28.6px;color:#333;font-family:'Liberation Serif',serif;">.</div>
<div class="w" style="left:1681.8px;top:1293.7px;width:792.6px;height:345.8px;background:#ddecfd;border-radius:56px;"></div>
<div class="a" style="left:1996.0px;top:1296.6px;font-size:38px;line-height:49.4px;color:#0a386b;font-family:'Liberation Serif',serif;font-weight:bold;transform:scaleX(0.9030);transform-origin:0 0;">Conclusion</div>
<div class="a" style="left:1705.3px;top:1353.8px;font-size:22.5px;line-height:29.2px;color:#111;font-family:'Liberation Serif',serif;letter-spacing:-0.16px;">PANORAMIA quantifies a ML model privacy leakage , even under distribution</div>
<div class="a" style="left:1705.3px;top:1385.2px;font-size:22.5px;line-height:29.2px;color:#111;font-family:'Liberation Serif',serif;letter-spacing:-0.26px;white-space:pre;">shifts between member and non-member data.. Empirically,  the accuracy of</div>
<div class="a" style="left:1705.3px;top:1417.0px;font-size:22.5px;line-height:29.2px;color:#111;font-family:'Liberation Serif',serif;letter-spacing:-0.20px;">PANORAMIA’s privacy measurements improves using more data.</div>
<div class="a" style="left:1705.3px;top:1460.2px;font-size:22.5px;line-height:29.2px;color:#111;font-family:'Liberation Serif',serif;letter-spacing:-0.36px;">Our work can serve as a building block to:</div>
<div class="a" style="left:1710.7px;top:1512.3px;font-size:13.5px;line-height:17.6px;color:#222;">1.</div>
<div class="a" style="left:1740.3px;top:1503.6px;font-size:22.5px;line-height:29.2px;color:#111;font-family:'Liberation Serif',serif;letter-spacing:-0.21px;">Create a full post-hoc privacy audit method.</div>
<div class="a" style="left:1710.7px;top:1544.5px;font-size:13.5px;line-height:17.6px;color:#222;">2.</div>
<div class="a" style="left:1740.3px;top:1535.8px;font-size:22.5px;line-height:29.2px;color:#111;font-family:'Liberation Serif',serif;letter-spacing:-0.38px;">Estimate privacy leakage of foundatio models.</div>
<div class="a" style="left:1710.7px;top:1576.3px;font-size:13.5px;line-height:17.6px;color:#222;">3.</div>
<div class="a" style="left:1740.3px;top:1567.6px;font-size:22.5px;line-height:29.2px;color:#111;font-family:'Liberation Serif',serif;letter-spacing:-0.26px;">Avoid the use of canaries for data contributor privacy measurement.</div>
<div class="w" style="left:2322px;top:1437px;width:118px;height:117.6px;background:#fff;"></div>
<svg width="111.1" height="111.1" style="left:2325.5px;top:1440.3px" viewBox="0 0 29 29" shape-rendering="crispEdges"><path d="M0 0h7v1h-7zM8 0h5v1h-5zM14 0h2v1h-2zM19 0h1v1h-1zM22 0h7v1h-7zM0 1h1v1h-1zM6 1h1v1h-1zM8 1h2v1h-2zM11 1h2v1h-2zM15 1h1v1h-1zM20 1h1v1h-1zM22 1h1v1h-1zM28 1h1v1h-1zM0 2h1v1h-1zM2 2h3v1h-3zM6 2h1v1h-1zM10 2h1v1h-1zM12 2h1v1h-1zM17 2h2v1h-2zM20 2h1v1h-1zM22 2h1v1h-1zM24 2h3v1h-3zM28 2h1v1h-1zM0 3h1v1h-1zM2 3h3v1h-3zM6 3h1v1h-1zM8 3h2v1h-2zM12 3h5v1h-5zM18 3h3v1h-3zM22 3h1v1h-1zM24 3h3v1h-3zM28 3h1v1h-1zM0 4h1v1h-1zM2 4h3v1h-3zM6 4h1v1h-1zM8 4h11v1h-11zM22 4h1v1h-1zM24 4h3v1h-3zM28 4h1v1h-1zM0 5h1v1h-1zM6 5h1v1h-1zM10 5h1v1h-1zM12 5h1v1h-1zM17 5h3v1h-3zM22 5h1v1h-1zM28 5h1v1h-1zM0 6h7v1h-7zM8 6h1v1h-1zM10 6h1v1h-1zM12 6h1v1h-1zM14 6h1v1h-1zM16 6h1v1h-1zM18 6h1v1h-1zM20 6h1v1h-1zM22 6h7v1h-7zM8 7h2v1h-2zM12 7h3v1h-3zM17 7h1v1h-1zM0 8h1v1h-1zM3 8h4v1h-4zM8 8h3v1h-3zM12 8h2v1h-2zM16 8h1v1h-1zM21 8h4v1h-4zM26 8h2v1h-2zM1 9h1v1h-1zM5 9h1v1h-1zM7 9h2v1h-2zM14 9h1v1h-1zM19 9h1v1h-1zM21 9h1v1h-1zM26 9h1v1h-1zM1 10h6v1h-6zM10 10h1v1h-1zM13 10h1v1h-1zM16 10h1v1h-1zM18 10h2v1h-2zM22 10h2v1h-2zM25 10h3v1h-3zM0 11h1v1h-1zM2 11h3v1h-3zM7 11h1v1h-1zM20 11h2v1h-2zM25 11h2v1h-2zM28 11h1v1h-1zM0 12h1v1h-1zM4 12h1v1h-1zM6 12h1v1h-1zM8 12h2v1h-2zM18 12h4v1h-4zM23 12h1v1h-1zM25 12h4v1h-4zM0 13h1v1h-1zM3 13h2v1h-2zM8 13h2v1h-2zM19 13h5v1h-5zM25 13h3v1h-3zM2 14h7v1h-7zM18 14h1v1h-1zM20 14h1v1h-1zM22 14h7v1h-7zM0 15h1v1h-1zM7 15h2v1h-2zM10 15h1v1h-1zM19 15h1v1h-1zM0 16h5v1h-5zM6 16h1v1h-1zM10 16h1v1h-1zM19 16h3v1h-3zM23 16h1v1h-1zM26 16h3v1h-3zM4 17h2v1h-2zM8 17h1v1h-1zM10 17h1v1h-1zM18 17h3v1h-3zM22 17h1v1h-1zM25 17h2v1h-2zM0 18h3v1h-3zM4 18h1v1h-1zM6 18h1v1h-1zM9 18h1v1h-1zM14 18h1v1h-1zM16 18h9v1h-9zM26 18h1v1h-1zM0 19h1v1h-1zM4 19h2v1h-2zM9 19h5v1h-5zM15 19h1v1h-1zM17 19h2v1h-2zM20 19h2v1h-2zM1 20h1v1h-1zM3 20h1v1h-1zM6 20h2v1h-2zM9 20h4v1h-4zM15 20h1v1h-1zM17 20h1v1h-1zM19 20h7v1h-7zM28 20h1v1h-1zM10 21h2v1h-2zM13 21h4v1h-4zM18 21h1v1h-1zM20 21h1v1h-1zM24 21h3v1h-3zM0 22h7v1h-7zM8 22h1v1h-1zM13 22h3v1h-3zM20 22h1v1h-1zM22 22h1v1h-1zM24 22h1v1h-1zM26 22h1v1h-1zM0 23h1v1h-1zM6 23h1v1h-1zM9 23h2v1h-2zM12 23h3v1h-3zM18 23h3v1h-3zM24 23h2v1h-2zM27 23h2v1h-2zM0 24h1v1h-1zM2 24h3v1h-3zM6 24h1v1h-1zM11 24h1v1h-1zM13 24h1v1h-1zM15 24h2v1h-2zM18 24h1v1h-1zM20 24h5v1h-5zM26 24h3v1h-3zM0 25h1v1h-1zM2 25h3v1h-3zM6 25h1v1h-1zM10 25h2v1h-2zM14 25h1v1h-1zM16 25h7v1h-7zM24 25h1v1h-1zM26 25h2v1h-2zM0 26h1v1h-1zM2 26h3v1h-3zM6 26h1v1h-1zM9 26h2v1h-2zM13 26h3v1h-3zM17 26h1v1h-1zM20 26h2v1h-2zM24 26h1v1h-1zM26 26h3v1h-3zM0 27h1v1h-1zM6 27h1v1h-1zM9 27h4v1h-4zM14 27h1v1h-1zM20 27h3v1h-3zM24 27h2v1h-2zM27 27h2v1h-2zM0 28h7v1h-7zM8 28h2v1h-2zM11 28h3v1h-3zM19 28h1v1h-1zM21 28h1v1h-1zM23 28h1v1h-1zM25 28h4v1h-4z" fill="#000"/></svg>
<svg width="24" height="34" style="left:2369px;top:1479px" viewBox="0 0 24 34"><path d="M1 0H23V14C23 26 18 32 12 34C6 32 1 26 1 14Z" fill="#2f8ae0"/><path d="M1 0H23V9H1Z" fill="#4fb0f0"/><path d="M12 10L14 16L20 13L16 18L22 20L15 21L12 28L9 21L2 20L8 18L4 13L10 16Z" fill="#e8f4ff"/></svg>
<div class="w" style="left:0px;top:1659.3px;width:2500px;height:7px;background:#0a55a2;"></div>

<!-- ===== SECTION 4 ===== -->
<div class="a num" style="left:42px;top:898.5px;font-size:74px;line-height:80px;transform:scaleX(1.25);transform-origin:0 0;">4</div>
<div class="a" style="left:139.0px;top:909.2px;font-size:46px;line-height:59.8px;color:#0a55a2;font-family:'Liberation Serif',serif;font-weight:bold;letter-spacing:-1.10px;">Baseline (blind) attack analysis</div>
<div class="rule" style="left:44.0px;top:991.9px;width:720.8px;height:3px;background:#0a55a2;transform:rotate(-0.374deg);"></div>
<svg width="850" height="420" style="left:0;top:1000px" viewBox="0 1000 850 420"><polygon points="244.6,1228.6 257.2,1214.2 263.7,1154.6 270.2,1086.6 276.4,1076.9 282.9,1070.8 289.0,1066.1 295.5,1061.7 301.7,1067.9 308.2,1063.5 314.7,1070.8 320.8,1062.4 327.3,1075.1 333.5,1066.1 340.0,1062.4 352.6,1069.7 359.1,1061.4 372.1,1062.4 429.2,1055.9 435.7,1045.5 492.8,1049.8 499.3,1044.4 556.7,1046.2 562.9,1042.6 620.3,1027.4 620.3,1073.3 562.9,1074.0 556.7,1081.2 499.3,1081.2 492.8,1085.2 435.7,1092.4 429.2,1092.4 372.1,1088.8 365.6,1104.7 359.1,1091.3 352.6,1102.2 340.0,1099.7 333.5,1096.8 327.3,1106.9 320.8,1095.7 314.7,1100.4 308.2,1096.0 301.7,1101.1 295.5,1088.8 289.0,1100.4 282.9,1107.6 276.4,1119.2 270.2,1156.4 263.7,1247.8 257.2,1245.6 244.6,1257.5" fill="#cfcff9"/><polyline points="244.6,1243.1 257.2,1229.7 263.7,1188.9 270.2,1122.1 276.4,1097.8 282.9,1088.8 289.0,1082.3 295.5,1075.1 301.7,1084.1 308.2,1079.4 314.7,1086.6 320.8,1078.7 327.3,1091.7 333.5,1081.6 340.0,1081.6 352.6,1085.9 359.1,1076.2 365.6,1083.0 372.1,1075.1 429.2,1073.3 435.7,1068.6 492.8,1067.5 499.3,1062.4 556.7,1063.5 562.9,1058.8 620.3,1049.8" fill="none" stroke="#5b5bef" stroke-width="1.6" stroke-linejoin="round"/><path d="M237.4 1073.3H295.5V1332.3" fill="none" stroke="#222" stroke-width="1" stroke-dasharray="3.2 2"/><circle cx="295.5" cy="1073.3" r="2" fill="#000"/><rect x="237.4" y="1013.7" width="409.3" height="318.6" fill="none" stroke="#9a9a9a" stroke-width="1.1"/><path d="M237.4 1013.7h-4M237.4 1066.8h-4M237.4 1119.9h-4M237.4 1173.0h-4M237.4 1226.1h-4M237.4 1279.2h-4M237.4 1332.3h-4M244.6 1332.3v4M301.7 1332.3v4M365.6 1332.3v4M429.2 1332.3v4M492.8 1332.3v4M556.7 1332.3v4M620.3 1332.3v4" stroke="#555" stroke-width="1"/><rect x="389.5" y="1287.5" width="246.3" height="34" rx="3" fill="#fff" fill-opacity="0.85" stroke="#d4d4d4" stroke-width="1"/><path d="M397.4 1303.4H437.9" stroke="#5b5bef" stroke-width="1.4"/></svg>
<div class="a" style="left:207.5px;top:1003.9px;font-size:16px;line-height:20.8px;color:#262626;letter-spacing:0.25px;">3.0</div>
<div class="a" style="left:207.5px;top:1057.0px;font-size:16px;line-height:20.8px;color:#262626;letter-spacing:0.25px;">2.5</div>
<div class="a" style="left:207.5px;top:1110.1px;font-size:16px;line-height:20.8px;color:#262626;letter-spacing:0.25px;">2.0</div>
<div class="a" style="left:207.5px;top:1163.2px;font-size:16px;line-height:20.8px;color:#262626;letter-spacing:0.25px;">1.5</div>
<div class="a" style="left:207.5px;top:1216.4px;font-size:16px;line-height:20.8px;color:#262626;letter-spacing:0.25px;">1.0</div>
<div class="a" style="left:207.5px;top:1269.5px;font-size:16px;line-height:20.8px;color:#262626;letter-spacing:0.25px;">0.5</div>
<div class="a" style="left:207.5px;top:1322.6px;font-size:16px;line-height:20.8px;color:#262626;letter-spacing:0.25px;">0.0</div>
<div class="a" style="left:229.7px;top:1334.4px;font-size:16px;line-height:20.8px;color:#262626;letter-spacing:1.00px;">500</div>
<div class="a" style="left:281.9px;top:1334.4px;font-size:16px;line-height:20.8px;color:#262626;letter-spacing:1.00px;">5000</div>
<div class="a" style="left:340.9px;top:1334.4px;font-size:16px;line-height:20.8px;color:#262626;letter-spacing:1.00px;">10000</div>
<div class="a" style="left:404.4px;top:1334.4px;font-size:16px;line-height:20.8px;color:#262626;letter-spacing:1.00px;">15000</div>
<div class="a" style="left:468.0px;top:1334.4px;font-size:16px;line-height:20.8px;color:#262626;letter-spacing:1.00px;">20000</div>
<div class="a" style="left:532.0px;top:1334.4px;font-size:16px;line-height:20.8px;color:#262626;letter-spacing:1.00px;">25000</div>
<div class="a" style="left:595.6px;top:1334.4px;font-size:16px;line-height:20.8px;color:#262626;letter-spacing:1.00px;">30000</div>
<div class="a" style="left:353.0px;top:1351.7px;font-size:19.5px;line-height:25.4px;color:#262626;letter-spacing:1.07px;">Train Dataset Size</div>
<div class="a" style="left:193.3px;top:1172.6px;font-size:19.5px;line-height:24px;color:#262626;letter-spacing:0.75px;transform:translate(-50%,-50%) rotate(-90deg);">Measurement of <i>c<sub style="font-size:72%;line-height:0">lb</sub></i></div>
<div class="a" style="left:454.5px;top:1291.3px;font-size:20px;line-height:26.0px;color:#262626;letter-spacing:0.55px;">Baseline-CIFAR10</div>
<div class="a cap" style="left:77.0px;top:1391.0px;font-size:19px;line-height:24.7px;color:#000;font-weight:bold;letter-spacing:0.36px;"><b>Figure 3:</b> CIFAR-10 baseline evaluation on increasing training size.</div>
<div class="dot" style="left:12.8px;top:1450.3px;width:10.5px;height:10.5px"></div>
<div class="a" style="left:42.6px;top:1441.4px;font-size:21.5px;line-height:27.9px;color:#333;letter-spacing:0.85px;">The baseline classifier gives a test for the c-closeness of the generator.</div>
<div class="dot" style="left:12.8px;top:1492.3px;width:10.5px;height:10.5px"></div>
<div class="a" style="left:42.6px;top:1483.2px;font-size:21.5px;line-height:27.9px;color:#333;letter-spacing:1.15px;">Only looks at raw data to distinguish between real member and synthetic</div>
<div class="a" style="left:42.6px;top:1515.2px;font-size:21.5px;line-height:27.9px;color:#333;letter-spacing:1.08px;">non-member data points.</div>
<div class="dot" style="left:12.8px;top:1567.8px;width:10.5px;height:10.5px"></div>
<div class="a" style="left:42.6px;top:1558.4px;font-size:21.5px;line-height:27.9px;color:#333;letter-spacing:1.21px;">Leads to a lower bound on the quality of the non-member data produced</div>
<div class="a" style="left:42.6px;top:1590.5px;font-size:21.5px;line-height:27.9px;color:#333;letter-spacing:0.93px;">by the generator.</div>

<!-- ===== SECTION 5 ===== -->
<div class="a num" style="left:892px;top:895px;font-size:73px;line-height:80px;transform:scaleX(1.25);transform-origin:0 0;">5</div>
<div class="a" style="left:980.0px;top:908.5px;font-size:45px;line-height:58.5px;color:#0a55a2;font-family:'Liberation Serif',serif;font-weight:bold;letter-spacing:-0.78px;">Privacy measurement results</div>
<div class="rule" style="left:868.7px;top:987.6px;width:721.1px;height:3px;background:#0a55a2;transform:rotate(-0.318deg);"></div>
<svg width="850" height="330" style="left:830px;top:1000px" viewBox="830 1000 850 330"><defs><clipPath id="c4"><rect x="882.4" y="1016.6" width="340.3" height="258.3"/></clipPath><clipPath id="c5"><rect x="1281.6" y="1018.4" width="328.7" height="255.4"/></clipPath></defs><linearGradient id="gs" x1="0" y1="0" x2="0" y2="1"><stop offset="0" stop-color="#fff"/><stop offset="1" stop-color="#ececec"/></linearGradient><rect x="846" y="1300" width="379" height="13" fill="url(#gs)"/><g clip-path="url(#c4)"><polygon points="897.6,1259.3 897.9,1253.6 898.5,1245.3 899.1,1236.4 899.7,1228.6 900.3,1222.7 900.8,1217.7 901.4,1212.7 902.3,1207.0 903.4,1200.3 904.7,1193.1 906.1,1185.6 907.7,1178.0 909.4,1170.0 911.2,1161.4 913.1,1153.3 914.9,1146.6 916.7,1141.6 918.5,1137.8 920.3,1134.8 922.1,1132.2 923.9,1129.8 925.6,1128.1 927.4,1126.7 929.3,1125.7 931.4,1125.0 933.6,1124.8 936.0,1124.8 938.4,1124.9 941.0,1125.1 943.7,1125.4 946.5,1125.9 949.2,1126.7 951.7,1128.0 954.0,1129.5 956.6,1131.2 960.1,1132.9 964.7,1134.6 970.2,1136.4 976.1,1138.2 981.7,1140.1 987.2,1142.1 992.6,1144.2 998.0,1146.2 1003.4,1148.1 1008.8,1149.6 1014.2,1150.9 1019.7,1152.2 1025.1,1153.8 1030.5,1155.9 1035.9,1158.2 1041.3,1160.5 1046.8,1162.9 1052.2,1165.1 1057.7,1167.4 1063.1,1169.6 1068.4,1171.9 1073.3,1174.0 1077.8,1175.9 1082.6,1178.0 1088.3,1180.9 1095.1,1184.7 1102.6,1189.2 1110.7,1194.0 1119.0,1199.0 1127.7,1204.1 1136.7,1209.3 1146.0,1214.9 1155.1,1220.7 1164.7,1227.1 1174.5,1234.0 1183.7,1240.8 1191.3,1246.7 1197.0,1251.8 1201.3,1256.4 1204.5,1260.3 1206.8,1262.9 1206.8,1262.9 1204.5,1262.4 1201.3,1261.8 1197.0,1260.3 1191.3,1257.5 1183.7,1252.7 1174.5,1246.4 1164.7,1239.6 1155.1,1233.3 1146.0,1227.6 1136.7,1222.1 1127.7,1216.8 1119.0,1211.6 1110.7,1206.7 1102.6,1201.8 1095.1,1197.4 1088.3,1193.6 1082.6,1190.7 1077.8,1188.5 1073.3,1186.6 1068.4,1184.6 1063.1,1182.3 1057.7,1180.0 1052.2,1177.7 1046.8,1175.5 1041.3,1173.3 1035.9,1171.1 1030.5,1169.1 1025.1,1167.2 1019.7,1165.7 1014.2,1164.4 1008.8,1163.2 1003.4,1161.8 998.0,1160.3 992.6,1158.7 987.2,1157.0 981.7,1155.3 976.1,1153.5 970.2,1151.6 964.7,1149.7 960.1,1148.1 956.6,1146.6 954.0,1145.2 951.7,1144.0 949.2,1143.0 946.5,1142.2 943.7,1141.5 941.0,1141.1 938.4,1140.8 936.0,1140.8 933.6,1140.9 931.4,1141.2 929.3,1141.9 927.4,1142.9 925.6,1144.1 923.9,1145.7 922.1,1148.1 920.3,1150.9 918.5,1154.2 916.7,1158.3 914.9,1163.6 913.1,1170.6 911.2,1179.0 909.4,1187.8 907.7,1196.1 906.2,1203.4 904.8,1210.2 903.5,1217.2 902.3,1225.0 900.9,1234.8 899.6,1245.8 898.4,1255.9 897.6,1262.9" fill="#4a4af5" fill-opacity="0.3"/><polygon points="897.6,1259.3 897.9,1253.4 898.5,1244.9 899.1,1235.5 899.7,1226.8 900.3,1219.4 900.8,1212.4 901.4,1205.3 902.3,1197.9 903.4,1190.0 904.7,1181.7 906.1,1173.4 907.7,1165.4 909.3,1157.6 911.1,1149.9 912.9,1142.8 914.9,1136.5 916.9,1131.4 919.0,1127.1 921.2,1123.5 923.9,1120.2 927.2,1117.4 930.8,1114.9 934.6,1112.9 938.4,1111.2 942.0,1109.8 945.6,1108.7 949.2,1108.0 952.8,1107.6 956.4,1107.6 960.1,1108.0 963.7,1108.6 967.3,1109.4 971.0,1110.4 974.7,1111.6 978.4,1112.9 981.7,1114.1 984.5,1115.1 986.9,1116.0 989.4,1117.0 992.6,1118.4 996.6,1120.3 1001.2,1122.5 1006.0,1125.0 1010.6,1127.5 1015.0,1130.1 1019.2,1132.8 1023.7,1135.6 1028.7,1138.3 1034.4,1140.9 1040.7,1143.5 1047.2,1146.2 1054.0,1149.1 1061.0,1152.5 1068.2,1156.3 1075.6,1160.0 1082.9,1163.6 1090.1,1166.8 1097.3,1169.9 1104.6,1173.0 1111.8,1176.2 1119.1,1179.7 1126.5,1183.2 1133.7,1186.9 1140.7,1190.7 1147.4,1194.5 1153.8,1198.5 1160.0,1202.6 1166.0,1207.0 1171.8,1211.6 1177.5,1216.5 1182.8,1221.6 1187.7,1226.8 1192.0,1232.3 1195.9,1238.0 1199.4,1243.5 1202.1,1248.5 1204.1,1253.0 1205.4,1257.1 1206.2,1260.5 1206.8,1262.9 1206.8,1262.9 1206.2,1262.9 1205.4,1262.8 1204.1,1262.4 1202.1,1261.1 1199.4,1258.9 1195.9,1255.9 1192.0,1252.4 1187.7,1248.5 1182.8,1244.0 1177.5,1238.8 1171.8,1233.5 1166.0,1228.6 1160.0,1224.3 1153.8,1220.2 1147.4,1216.2 1140.7,1212.4 1133.7,1208.6 1126.5,1204.9 1119.1,1201.4 1111.8,1197.9 1104.6,1194.7 1097.3,1191.6 1090.1,1188.5 1082.9,1185.3 1075.6,1181.7 1068.2,1177.9 1061.0,1174.2 1054.0,1170.8 1047.2,1167.9 1040.7,1165.2 1034.4,1162.6 1028.7,1160.0 1023.7,1157.2 1019.2,1154.3 1015.0,1151.6 1010.6,1149.1 1006.1,1147.0 1001.6,1145.2 997.1,1143.5 992.6,1141.9 987.8,1140.5 982.9,1139.3 978.3,1138.2 974.5,1137.2 972.1,1136.4 970.7,1135.7 969.3,1135.1 967.3,1134.7 964.2,1134.5 960.5,1134.4 956.6,1134.5 952.8,1134.7 949.2,1135.0 945.6,1135.4 942.0,1136.1 938.4,1137.2 934.6,1138.6 930.8,1140.3 927.2,1142.5 923.9,1145.5 921.2,1149.5 919.0,1154.2 916.9,1159.5 914.9,1165.4 912.9,1171.9 911.1,1179.1 909.3,1186.6 907.7,1194.3 906.2,1202.1 904.8,1210.1 903.5,1218.4 902.3,1226.8 900.9,1236.4 899.6,1246.9 898.4,1256.4 897.6,1262.9" fill="#ffa51f" fill-opacity="0.28"/><polygon points="897.6,1255.7 897.9,1247.8 898.5,1236.3 899.1,1223.7 899.7,1212.4 900.2,1203.1 900.7,1194.5 901.3,1185.9 902.3,1176.2 903.6,1164.8 905.3,1152.3 907.3,1140.0 909.5,1129.3 911.9,1120.4 914.4,1112.6 917.3,1105.9 920.3,1100.4 923.6,1096.3 927.1,1093.5 930.8,1091.4 934.8,1089.5 938.9,1087.8 943.3,1086.4 948.0,1085.2 952.8,1084.1 958.0,1083.2 963.4,1082.5 969.0,1081.7 974.5,1080.5 979.9,1078.6 985.3,1076.2 990.8,1073.7 996.2,1071.5 1001.6,1069.5 1007.0,1067.5 1012.4,1065.8 1017.9,1064.2 1023.4,1063.0 1028.9,1062.1 1034.4,1061.3 1039.5,1060.6 1044.3,1060.0 1048.8,1059.5 1053.2,1059.1 1057.6,1058.8 1062.0,1058.7 1066.4,1058.8 1070.9,1059.0 1075.7,1059.6 1080.8,1060.4 1086.3,1061.5 1091.8,1062.8 1097.3,1064.2 1102.8,1065.7 1108.2,1067.3 1113.6,1069.1 1119.0,1071.5 1124.5,1074.6 1130.1,1078.4 1135.5,1082.3 1140.7,1085.9 1145.5,1089.2 1150.2,1092.4 1154.6,1095.5 1158.8,1098.6 1162.7,1101.6 1166.3,1104.6 1169.8,1107.7 1173.2,1111.2 1176.6,1115.4 1179.9,1120.1 1183.0,1124.9 1185.9,1129.3 1188.4,1133.0 1190.7,1136.3 1192.8,1139.7 1194.9,1143.7 1196.9,1147.4 1198.8,1150.7 1200.5,1156.0 1202.1,1165.4 1203.5,1182.3 1204.7,1204.7 1205.7,1226.4 1206.4,1241.3 1205.0,1262.9 1204.2,1249.6 1203.0,1230.2 1201.6,1210.0 1200.3,1194.3 1199.1,1184.7 1197.9,1178.3 1196.5,1173.6 1194.9,1169.0 1193.0,1164.6 1190.8,1161.0 1188.4,1157.8 1185.9,1154.6 1183.0,1151.3 1179.9,1148.1 1176.6,1145.0 1173.2,1141.9 1169.8,1138.8 1166.3,1135.6 1162.7,1132.4 1158.8,1129.3 1154.6,1126.1 1150.2,1122.8 1145.5,1119.7 1140.7,1116.6 1135.5,1113.8 1130.1,1111.0 1124.5,1108.3 1119.0,1105.8 1113.6,1103.4 1108.2,1101.1 1102.8,1098.9 1097.3,1096.8 1091.8,1094.7 1086.3,1092.8 1080.8,1091.0 1075.7,1089.5 1070.9,1088.4 1066.4,1087.6 1062.0,1087.0 1057.6,1086.6 1053.2,1086.7 1048.8,1087.0 1044.3,1087.4 1039.5,1087.7 1034.3,1087.8 1028.7,1087.7 1023.1,1087.6 1017.9,1087.7 1013.1,1087.5 1008.6,1087.1 1004.2,1087.4 999.8,1089.5 995.4,1094.2 991.0,1100.7 986.5,1108.0 981.7,1114.8 976.5,1121.1 970.9,1127.5 965.3,1133.8 960.1,1140.1 955.2,1146.5 950.6,1153.0 946.2,1159.3 942.0,1165.4 938.0,1171.0 934.3,1176.2 930.8,1181.5 927.5,1187.1 924.6,1193.0 921.9,1199.0 919.3,1205.5 916.7,1212.4 913.9,1220.3 911.1,1229.1 908.4,1237.6 905.9,1244.9 903.4,1250.8 901.0,1255.9 899.0,1260.0 897.6,1262.9" fill="#c43ad6" fill-opacity="0.27"/><polygon points="897.6,1259.3 897.9,1252.7 898.3,1243.1 898.8,1232.6 899.4,1223.2 900.0,1215.6 900.6,1208.8 901.3,1201.9 902.3,1194.3 903.3,1185.6 904.6,1176.2 906.0,1166.9 907.7,1158.2 909.6,1150.3 911.6,1142.9 914.0,1136.0 916.7,1129.3 919.9,1122.9 923.4,1116.9 927.2,1111.2 931.2,1105.8 935.2,1100.8 939.5,1096.2 944.1,1091.9 949.2,1087.7 955.0,1083.8 961.4,1080.1 968.0,1076.6 974.5,1073.3 980.8,1070.2 987.2,1067.4 993.5,1064.8 999.8,1062.4 1006.0,1060.4 1012.2,1058.5 1018.5,1056.9 1025.1,1055.2 1032.1,1053.6 1039.3,1052.0 1046.7,1050.5 1054.0,1049.1 1061.4,1047.8 1068.9,1046.6 1076.2,1045.4 1082.9,1044.4 1088.7,1043.4 1094.0,1042.6 1099.1,1041.8 1104.6,1040.8 1110.6,1039.5 1117.0,1038.2 1123.4,1036.7 1129.9,1035.3 1136.3,1033.9 1142.7,1032.4 1149.1,1031.0 1155.1,1029.9 1161.0,1029.3 1166.8,1029.1 1172.1,1029.0 1176.8,1028.8 1180.8,1028.4 1184.2,1027.7 1187.0,1027.5 1189.5,1028.1 1191.3,1030.0 1192.5,1032.8 1193.6,1036.0 1194.9,1039.0 1196.6,1041.2 1198.6,1043.0 1200.5,1045.6 1202.1,1049.8 1203.3,1055.1 1204.3,1061.3 1205.0,1069.9 1205.7,1082.3 1206.3,1100.0 1206.8,1121.8 1207.2,1145.6 1207.5,1169.0 1207.7,1194.2 1207.8,1221.4 1207.9,1245.9 1207.9,1262.9 1205.7,1262.9 1205.4,1237.6 1205.0,1200.9 1204.5,1162.6 1203.9,1132.9 1203.2,1114.6 1202.3,1102.4 1201.4,1093.7 1200.3,1085.9 1199.2,1079.1 1197.9,1074.4 1196.5,1070.9 1194.9,1067.9 1193.0,1065.2 1190.8,1063.4 1188.4,1062.0 1185.9,1060.6 1183.1,1059.3 1180.1,1058.1 1176.8,1057.1 1173.2,1056.3 1169.2,1055.7 1164.7,1055.4 1160.0,1055.2 1155.1,1055.2 1150.1,1055.5 1144.8,1056.1 1139.2,1056.7 1133.5,1057.0 1127.3,1056.9 1120.8,1056.4 1114.3,1056.0 1108.2,1055.9 1102.7,1056.3 1097.6,1057.0 1092.3,1057.9 1086.5,1058.8 1079.8,1059.8 1072.5,1061.0 1065.0,1062.2 1057.6,1063.5 1050.3,1064.9 1042.9,1066.4 1035.7,1068.0 1028.7,1069.7 1022.1,1071.3 1015.8,1073.0 1009.6,1074.8 1003.4,1076.9 997.1,1079.2 990.8,1081.7 984.4,1084.5 978.1,1087.7 971.6,1091.5 965.0,1095.7 958.6,1100.2 952.8,1104.7 947.7,1109.2 943.1,1113.8 938.9,1118.6 934.8,1123.9 930.8,1129.7 927.0,1136.0 923.5,1142.6 920.3,1149.1 917.6,1155.5 915.4,1161.8 913.3,1168.5 911.3,1176.2 909.3,1185.6 907.3,1196.2 905.6,1206.8 904.1,1216.0 902.9,1223.4 902.0,1229.8 901.2,1235.5 900.4,1241.3 899.6,1247.5 898.8,1253.7 898.1,1259.1 897.6,1262.9" fill="#f53a3a" fill-opacity="0.28"/><path d="M882.4 1042.6H1222.7" stroke="#f03030" stroke-width="1.3" stroke-dasharray="3.2 1.5"/><path d="M882.4 1071.8H1222.7" stroke="#c030d0" stroke-width="1.3" stroke-dasharray="3.2 1.5"/><path d="M882.4 1123.1H1222.7" stroke="#ffa520" stroke-width="1.3" stroke-dasharray="3.2 1.5"/><path d="M882.4 1132.5H1222.7" stroke="#3535f0" stroke-width="1.3" stroke-dasharray="3.2 1.5"/><polyline points="897.6,1262.9 897.8,1259.5 898.3,1254.5 898.7,1248.7 899.2,1242.9 899.7,1237.7 900.2,1233.2 900.6,1229.1 901.0,1225.0 901.6,1220.7 902.3,1216.0 903.1,1210.7 904.1,1205.1 905.2,1199.2 906.4,1193.2 907.7,1187.1 909.0,1180.5 910.4,1173.5 911.9,1166.4 913.4,1160.0 914.9,1154.6 916.3,1150.4 917.8,1147.1 919.2,1144.5 920.7,1142.2 922.1,1140.1 923.5,1138.2 924.9,1136.7 926.3,1135.4 927.8,1134.4 929.3,1133.6 931.0,1133.1 932.7,1132.8 934.6,1132.7 936.4,1132.8 938.4,1132.9 940.4,1133.0 942.6,1133.3 944.8,1133.6 947.0,1134.1 949.2,1134.7 951.2,1135.5 953.0,1136.5 954.9,1137.6 957.2,1138.9 960.1,1140.1 963.7,1141.4 967.9,1142.9 972.5,1144.4 977.2,1145.9 981.7,1147.3 986.1,1148.8 990.4,1150.3 994.7,1151.8 999.1,1153.2 1003.4,1154.6 1007.7,1155.7 1012.1,1156.7 1016.4,1157.6 1020.8,1158.7 1025.1,1160.0 1029.4,1161.6 1033.8,1163.3 1038.1,1165.2 1042.4,1167.2 1046.8,1169.0 1051.1,1170.8 1055.5,1172.6 1059.9,1174.4 1064.2,1176.2 1068.4,1178.0 1072.4,1179.7 1076.0,1181.2 1079.7,1182.8 1083.7,1184.7 1088.3,1187.1 1093.7,1190.1 1099.6,1193.5 1105.8,1197.2 1112.4,1201.2 1119.0,1205.1 1125.9,1209.2 1133.1,1213.4 1140.4,1217.7 1147.8,1222.2 1155.1,1226.8 1162.7,1231.9 1170.6,1237.4 1178.3,1242.9 1185.4,1247.9 1191.3,1252.1 1195.9,1255.4 1199.7,1258.0 1202.7,1260.1 1205.0,1261.7 1206.8,1262.9" fill="none" stroke="#3a3af0" stroke-width="1.9" stroke-linejoin="round"/><polyline points="897.6,1262.9 897.8,1259.5 898.3,1254.7 898.7,1249.0 899.2,1243.1 899.7,1237.7 900.2,1232.7 900.6,1227.9 901.0,1223.0 901.6,1217.9 902.3,1212.4 903.1,1206.3 904.1,1199.7 905.2,1192.9 906.4,1186.2 907.7,1179.9 909.0,1173.7 910.3,1167.5 911.8,1161.6 913.3,1156.0 914.9,1151.0 916.5,1146.5 918.1,1142.4 919.8,1138.8 921.7,1135.6 923.9,1132.9 926.5,1130.7 929.3,1129.0 932.3,1127.6 935.4,1126.6 938.4,1125.7 941.3,1124.9 944.2,1124.5 947.1,1124.3 949.9,1124.1 952.8,1123.9 955.8,1123.5 959.0,1123.1 962.0,1122.8 964.9,1122.6 967.3,1122.8 969.0,1123.4 970.2,1124.3 971.2,1125.4 972.5,1126.5 974.5,1127.5 977.4,1128.2 981.0,1128.8 984.8,1129.4 988.8,1130.1 992.6,1131.1 996.2,1132.2 999.8,1133.5 1003.4,1135.0 1007.0,1136.6 1010.6,1138.3 1014.1,1140.2 1017.5,1142.4 1021.0,1144.6 1024.6,1146.9 1028.7,1149.1 1033.2,1151.3 1038.1,1153.3 1043.3,1155.4 1048.6,1157.6 1054.0,1160.0 1059.5,1162.7 1065.3,1165.6 1071.2,1168.6 1077.1,1171.6 1082.9,1174.4 1088.7,1177.1 1094.5,1179.5 1100.2,1182.0 1106.0,1184.5 1111.8,1187.1 1117.6,1189.8 1123.5,1192.6 1129.4,1195.5 1135.1,1198.5 1140.7,1201.5 1146.0,1204.6 1151.2,1207.7 1156.3,1210.9 1161.2,1214.3 1166.0,1217.8 1170.7,1221.6 1175.3,1225.6 1179.7,1229.7 1183.8,1233.7 1187.7,1237.7 1191.2,1241.6 1194.4,1245.5 1197.4,1249.4 1200.0,1252.8 1202.1,1255.7 1203.7,1258.0 1204.9,1259.7 1205.7,1261.1 1206.3,1262.1 1206.8,1262.9" fill="none" stroke="#ffa51f" stroke-width="1.9" stroke-linejoin="round"/><polyline points="897.6,1262.9 897.8,1260.0 898.3,1255.8 898.7,1251.0 899.2,1246.0 899.7,1241.3 900.1,1237.2 900.5,1233.3 900.9,1229.3 901.4,1224.9 902.3,1219.6 903.3,1213.2 904.6,1205.8 906.1,1198.1 907.7,1190.5 909.5,1183.5 911.4,1177.1 913.4,1171.0 915.5,1165.3 917.9,1159.8 920.3,1154.6 922.9,1149.7 925.7,1145.2 928.6,1141.0 931.6,1136.9 934.8,1132.9 938.1,1129.0 941.6,1125.4 945.2,1121.9 948.9,1118.4 952.8,1114.8 956.9,1111.2 961.2,1107.6 965.7,1103.9 970.1,1100.3 974.5,1096.8 978.8,1093.0 983.2,1089.1 987.5,1085.3 991.8,1081.9 996.2,1079.4 1000.5,1078.0 1004.9,1077.4 1009.2,1077.3 1013.5,1077.2 1017.9,1076.9 1022.3,1076.2 1026.7,1075.4 1031.1,1074.6 1035.4,1073.9 1039.5,1073.3 1043.4,1072.7 1047.0,1072.2 1050.5,1071.8 1054.0,1071.5 1057.6,1071.5 1061.2,1071.6 1064.7,1072.0 1068.2,1072.5 1071.8,1073.2 1075.7,1074.0 1079.8,1075.0 1084.1,1076.3 1088.5,1077.7 1092.9,1079.1 1097.3,1080.5 1101.7,1081.8 1106.0,1083.1 1110.3,1084.4 1114.7,1085.9 1119.0,1087.7 1123.4,1089.9 1127.9,1092.4 1132.3,1095.1 1136.6,1097.8 1140.7,1100.4 1144.6,1102.9 1148.4,1105.4 1152.0,1108.0 1155.4,1110.5 1158.8,1113.0 1161.9,1115.5 1164.9,1118.0 1167.7,1120.5 1170.5,1123.0 1173.2,1125.7 1175.9,1128.4 1178.6,1131.3 1181.1,1134.2 1183.6,1137.2 1185.9,1140.1 1187.9,1142.8 1189.8,1145.4 1191.6,1148.0 1193.3,1151.0 1194.9,1154.6 1196.5,1158.6 1198.1,1163.0 1199.6,1167.9 1200.9,1173.5 1202.1,1179.9 1203.1,1187.4 1203.9,1196.1 1204.6,1205.3 1205.2,1214.5 1205.7,1223.2 1206.1,1232.0 1206.4,1241.3 1206.6,1250.1 1206.7,1257.6 1206.8,1262.9" fill="none" stroke="#c028d0" stroke-width="1.9" stroke-linejoin="round"/><polyline points="897.6,1262.9 897.8,1259.0 898.1,1253.5 898.5,1247.0 898.9,1240.3 899.4,1234.0 899.8,1228.4 900.3,1222.8 900.9,1217.2 901.5,1211.4 902.3,1205.1 903.1,1198.3 904.1,1190.9 905.1,1183.3 906.3,1175.9 907.7,1169.0 909.2,1162.7 910.8,1156.8 912.5,1151.1 914.5,1145.5 916.7,1140.1 919.2,1134.7 921.9,1129.4 924.9,1124.2 927.9,1119.4 931.2,1114.8 934.4,1110.7 937.8,1107.0 941.3,1103.5 945.1,1100.1 949.2,1096.8 953.8,1093.3 958.8,1089.9 964.0,1086.5 969.3,1083.4 974.5,1080.5 979.6,1077.9 984.6,1075.6 989.7,1073.5 994.7,1071.5 999.8,1069.7 1004.8,1068.0 1009.7,1066.5 1014.7,1065.1 1019.8,1063.8 1025.1,1062.4 1030.6,1061.1 1036.4,1059.8 1042.3,1058.6 1048.2,1057.4 1054.0,1056.3 1059.9,1055.2 1065.9,1054.2 1071.8,1053.3 1077.6,1052.4 1082.9,1051.6 1087.6,1050.8 1091.9,1050.1 1096.0,1049.5 1100.1,1048.9 1104.6,1048.4 1109.4,1047.9 1114.4,1047.4 1119.6,1047.1 1124.7,1046.6 1129.9,1046.2 1135.1,1045.6 1140.7,1045.0 1146.1,1044.3 1151.0,1043.7 1155.1,1043.3 1158.2,1043.0 1160.5,1042.8 1162.3,1042.6 1164.0,1042.6 1166.0,1042.6 1168.1,1042.7 1170.2,1042.8 1172.4,1043.0 1174.5,1043.3 1176.8,1043.7 1179.3,1044.0 1182.0,1044.3 1184.7,1044.8 1187.3,1045.4 1189.5,1046.2 1191.3,1047.2 1192.8,1048.4 1194.2,1049.8 1195.4,1051.4 1196.7,1053.4 1197.9,1055.6 1199.1,1058.0 1200.2,1060.7 1201.2,1063.9 1202.1,1067.9 1202.9,1072.0 1203.5,1076.3 1204.1,1081.4 1204.6,1088.0 1205.0,1096.8 1205.4,1108.1 1205.7,1121.5 1206.0,1136.5 1206.2,1152.5 1206.4,1169.0 1206.6,1187.9 1206.7,1209.5 1206.7,1231.1 1206.8,1249.8 1206.8,1262.9" fill="none" stroke="#f02828" stroke-width="1.9" stroke-linejoin="round"/></g><rect x="882.4" y="1016.6" width="340.3" height="258.3" fill="none" stroke="#444" stroke-width="1"/><path d="M882.4 1040.8h-3.5M882.4 1077.6h-3.5M882.4 1114.8h-3.5M882.4 1151.7h-3.5M882.4 1188.9h-3.5M882.4 1225.7h-3.5M882.4 1262.9h-3.5M897.6 1274.9v3.5M959.3 1274.9v3.5M1021.5 1274.9v3.5M1082.9 1274.9v3.5M1145.0 1274.9v3.5M1206.8 1274.9v3.5" stroke="#444" stroke-width="1"/><rect x="1029.8" y="1187" width="186" height="83.2" rx="3" fill="#fff" fill-opacity="0.8" stroke="#d0d0d0" stroke-width="1"/><path d="M1034.8 1198.3H1061.2" stroke="#3a3af0" stroke-width="1.9"/><path d="M1034.8 1217.8H1061.2" stroke="#f02828" stroke-width="1.9"/><path d="M1034.8 1237.7H1061.2" stroke="#c028d0" stroke-width="1.9"/><path d="M1034.8 1257.2H1061.2" stroke="#ffa51f" stroke-width="1.9"/><g clip-path="url(#c5)"><polygon points="1284.5,1213.1 1287.0,1164.3 1289.5,1113.0 1322.1,1105.4 1363.6,1122.8 1404.4,1130.0 1445.6,1137.6 1445.6,1147.0 1404.4,1139.4 1363.6,1132.2 1322.1,1114.8 1289.5,1122.4 1287.0,1173.7 1284.5,1222.5" fill="#f5b041" fill-opacity="0.3"/><polygon points="1284.5,1212.4 1287.0,1149.1 1289.5,1087.7 1297.8,1071.5 1322.1,1059.6 1363.6,1043.7 1363.6,1054.5 1322.1,1070.4 1297.8,1082.3 1289.5,1098.6 1287.0,1160.0 1284.5,1223.2" fill="#3f9f3f" fill-opacity="0.3"/><polygon points="1284.5,1251.4 1287.0,1199.0 1289.5,1148.4 1322.1,1148.4 1363.6,1141.2 1445.6,1088.8 1528.0,1059.9 1569.2,1030.3 1569.2,1042.6 1528.0,1072.2 1445.6,1101.1 1363.6,1153.5 1322.1,1160.7 1289.5,1160.7 1287.0,1211.3 1284.5,1263.7" fill="#e8483f" fill-opacity="0.3"/><polyline points="1284.5,1217.8 1287.0,1169.0 1289.5,1117.7 1322.1,1110.1 1363.6,1127.5 1404.4,1134.7 1445.6,1142.3" fill="none" stroke="#f5b041" stroke-width="1.7"/><polyline points="1284.5,1217.8 1287.0,1154.6 1289.5,1093.2 1297.8,1076.9 1322.1,1065.0 1363.6,1049.1" fill="none" stroke="#3f9f3f" stroke-width="1.7"/><polyline points="1284.5,1257.5 1287.0,1205.1 1289.5,1154.6 1322.1,1154.6 1363.6,1147.3 1445.6,1095.0 1528.0,1066.1 1569.2,1036.4" fill="none" stroke="#e8483f" stroke-width="1.7"/></g><rect x="1281.6" y="1018.4" width="328.7" height="255.4" fill="none" stroke="#9a9a9a" stroke-width="1.1"/><path d="M1281.6 1045.1h-3.5M1281.6 1082.3h-3.5M1281.6 1119.2h-3.5M1281.6 1156.4h-3.5M1281.6 1193.2h-3.5M1281.6 1230.1h-3.5M1281.6 1267.3h-3.5M1285.2 1273.8v3.5M1363.6 1273.8v3.5M1445.6 1273.8v3.5M1528.0 1273.8v3.5M1610.3 1273.8v3.5" stroke="#555" stroke-width="1"/><rect x="1316" y="1199" width="287" height="68.3" rx="3" fill="#fff" fill-opacity="0.8" stroke="#d4d4d4" stroke-width="1"/><path d="M1321.3 1211H1350.2" stroke="#f5b041" stroke-width="1.5"/><path d="M1321.3 1232.2H1350.2" stroke="#3f9f3f" stroke-width="1.5"/><path d="M1321.3 1253.6H1350.2" stroke="#e8483f" stroke-width="1.5"/></svg>
<div class="a" style="left:869.0px;top:1031.9px;font-size:14.5px;line-height:18.9px;color:#262626;">6</div>
<div class="a" style="left:869.0px;top:1068.7px;font-size:14.5px;line-height:18.9px;color:#262626;">5</div>
<div class="a" style="left:869.0px;top:1106.0px;font-size:14.5px;line-height:18.9px;color:#262626;">4</div>
<div class="a" style="left:869.0px;top:1142.8px;font-size:14.5px;line-height:18.9px;color:#262626;">3</div>
<div class="a" style="left:869.0px;top:1180.0px;font-size:14.5px;line-height:18.9px;color:#262626;">2</div>
<div class="a" style="left:869.0px;top:1216.9px;font-size:14.5px;line-height:18.9px;color:#262626;">1</div>
<div class="a" style="left:869.0px;top:1254.1px;font-size:14.5px;line-height:18.9px;color:#262626;">0</div>
<div class="a" style="left:887.1px;top:1276.1px;font-size:14.5px;line-height:18.9px;color:#262626;letter-spacing:0.28px;">0.0</div>
<div class="a" style="left:948.8px;top:1276.1px;font-size:14.5px;line-height:18.9px;color:#262626;letter-spacing:0.28px;">0.2</div>
<div class="a" style="left:1011.0px;top:1276.1px;font-size:14.5px;line-height:18.9px;color:#262626;letter-spacing:0.28px;">0.4</div>
<div class="a" style="left:1072.4px;top:1276.1px;font-size:14.5px;line-height:18.9px;color:#262626;letter-spacing:0.28px;">0.6</div>
<div class="a" style="left:1134.5px;top:1276.1px;font-size:14.5px;line-height:18.9px;color:#262626;letter-spacing:0.28px;">0.8</div>
<div class="a" style="left:1196.3px;top:1276.1px;font-size:14.5px;line-height:18.9px;color:#262626;letter-spacing:0.28px;">1.0</div>
<div class="a" style="left:1027.0px;top:1289.1px;font-size:18.5px;line-height:24.1px;color:#262626;letter-spacing:-0.23px;">Recall</div>
<div class="a" style="left:857px;top:1145.5px;font-size:18px;line-height:22px;color:#262626;letter-spacing:0.55px;transform:translate(-50%,-50%) rotate(-90deg);">Measurement for <i>c</i><sub style="font-size:72%;line-height:0">lb</sub> or {<i>c</i> + <i>ε</i>}<sub style="font-size:72%;line-height:0">lb</sub></div>
<div class="a" style="left:1071.0px;top:1189.3px;font-size:14.3px;line-height:18.6px;color:#262626;"><i>c</i><sub>lb</sub></div>
<div class="a" style="left:1071.0px;top:1208.8px;font-size:14.3px;line-height:18.6px;color:#262626;letter-spacing:0.17px;">{<i>c</i> + <i>ε</i>}<sub>lb</sub> GPT-2_E150</div>
<div class="a" style="left:1071.0px;top:1228.6px;font-size:14.3px;line-height:18.6px;color:#262626;letter-spacing:0.12px;">{<i>c</i> + <i>ε</i>}<sub>lb</sub> GPT-2_E75</div>
<div class="a" style="left:1071.0px;top:1248.1px;font-size:14.3px;line-height:18.6px;color:#262626;letter-spacing:0.12px;">{<i>c</i> + <i>ε</i>}<sub>lb</sub> GPT-2_E37</div>
<div class="a" style="left:1253.0px;top:1035.3px;font-size:16px;line-height:20.8px;color:#262626;letter-spacing:0.25px;">4.0</div>
<div class="a" style="left:1253.0px;top:1072.5px;font-size:16px;line-height:20.8px;color:#262626;letter-spacing:0.25px;">3.5</div>
<div class="a" style="left:1253.0px;top:1109.3px;font-size:16px;line-height:20.8px;color:#262626;letter-spacing:0.25px;">3.0</div>
<div class="a" style="left:1253.0px;top:1146.5px;font-size:16px;line-height:20.8px;color:#262626;letter-spacing:0.25px;">2.5</div>
<div class="a" style="left:1253.0px;top:1183.4px;font-size:16px;line-height:20.8px;color:#262626;letter-spacing:0.25px;">2.0</div>
<div class="a" style="left:1253.0px;top:1220.2px;font-size:16px;line-height:20.8px;color:#262626;letter-spacing:0.25px;">1.5</div>
<div class="a" style="left:1253.0px;top:1257.4px;font-size:16px;line-height:20.8px;color:#262626;letter-spacing:0.25px;">1.0</div>
<div class="a" style="left:1271.4px;top:1276.9px;font-size:15.5px;line-height:20.2px;color:#262626;letter-spacing:0.58px;">500</div>
<div class="a" style="left:1340.6px;top:1276.9px;font-size:15.5px;line-height:20.2px;color:#262626;letter-spacing:0.58px;">10000</div>
<div class="a" style="left:1422.6px;top:1276.9px;font-size:15.5px;line-height:20.2px;color:#262626;letter-spacing:0.58px;">20000</div>
<div class="a" style="left:1505.0px;top:1276.9px;font-size:15.5px;line-height:20.2px;color:#262626;letter-spacing:0.58px;">30000</div>
<div class="a" style="left:1587.3px;top:1276.9px;font-size:15.5px;line-height:20.2px;color:#262626;letter-spacing:0.58px;">40000</div>
<div class="a" style="left:1376.0px;top:1293.1px;font-size:15.5px;line-height:20.2px;color:#333;letter-spacing:0.11px;">Test Dataset Size m</div>
<div class="a" style="left:1241.8px;top:1146.6px;font-size:15.5px;line-height:20px;color:#262626;letter-spacing:0.3px;transform:translate(-50%,-50%) rotate(-90deg);">measurement of <i>ε</i> or <i>ε̃</i></div>
<div class="a" style="left:1362.2px;top:1202.4px;font-size:14.8px;line-height:19.2px;color:#262626;letter-spacing:0.28px;">O(1)-WRN-28-10_E150</div>
<div class="a" style="left:1362.2px;top:1223.7px;font-size:14.8px;line-height:19.2px;color:#262626;letter-spacing:0.29px;">O(1)-ML-based-WRN-28-10_E150</div>
<div class="a" style="left:1362.2px;top:1244.9px;font-size:14.8px;line-height:19.2px;color:#262626;letter-spacing:0.31px;">Panoramia-WRN-28-10_E150</div>
<div class="a cap" style="left:842.6px;top:1347.7px;font-size:19px;line-height:24.7px;color:#000;font-weight:bold;letter-spacing:0.04px;"><b>Figure 4:</b> <span style="font-weight:normal">c<sub>lb</sub> and ϵ+ c<sub>lb</sub></span> vs recall, for our</div>
<div class="a" style="left:842.6px;top:1372.3px;font-size:19px;line-height:24.7px;color:#000;font-weight:bold;letter-spacing:0.48px;">target models, reported over 5 independent</div>
<div class="a" style="left:842.6px;top:1396.9px;font-size:19px;line-height:24.7px;color:#000;font-weight:bold;letter-spacing:0.44px;">experiment runs for GPT-2.</div>
<div class="a cap" style="left:1278.7px;top:1345.7px;font-size:19px;line-height:24.7px;color:#000;font-weight:bold;letter-spacing:0.35px;"><b>Figure 5:</b> Effect of increasing test set</div>
<div class="a" style="left:1278.7px;top:1370.4px;font-size:19px;line-height:24.7px;color:#000;font-weight:bold;letter-spacing:0.29px;">size on PANORAMIA’s privacy</div>
<div class="a" style="left:1278.7px;top:1394.7px;font-size:19px;line-height:24.7px;color:#000;font-weight:bold;letter-spacing:0.79px;">measurement for Wide ResNet-28-10.</div>
<div class="dot" style="left:859px;top:1469px;width:10.5px;height:10.5px"></div>
<div class="a" style="left:889.6px;top:1459.1px;font-size:23px;line-height:29.9px;color:#34495e;word-spacing:17.47px;">PANORAMIA ranks models by privacy leakage, with higher</div>
<div class="a" style="left:889.6px;top:1492.7px;font-size:23px;line-height:29.9px;color:#34495e;letter-spacing:0.77px;">overfitting leading to more leakage.</div>
<div class="dot" style="left:859px;top:1547.4px;width:10.5px;height:10.5px"></div>
<div class="a" style="left:889.6px;top:1536.7px;font-size:23px;line-height:29.9px;color:#34495e;word-spacing:10.31px;">We can detect higher privacy leakage with larger test sets by</div>
<div class="a" style="left:889.6px;top:1570.4px;font-size:23px;line-height:29.9px;color:#34495e;letter-spacing:0.78px;">using synthetic non-member data.</div>
</body></html>
